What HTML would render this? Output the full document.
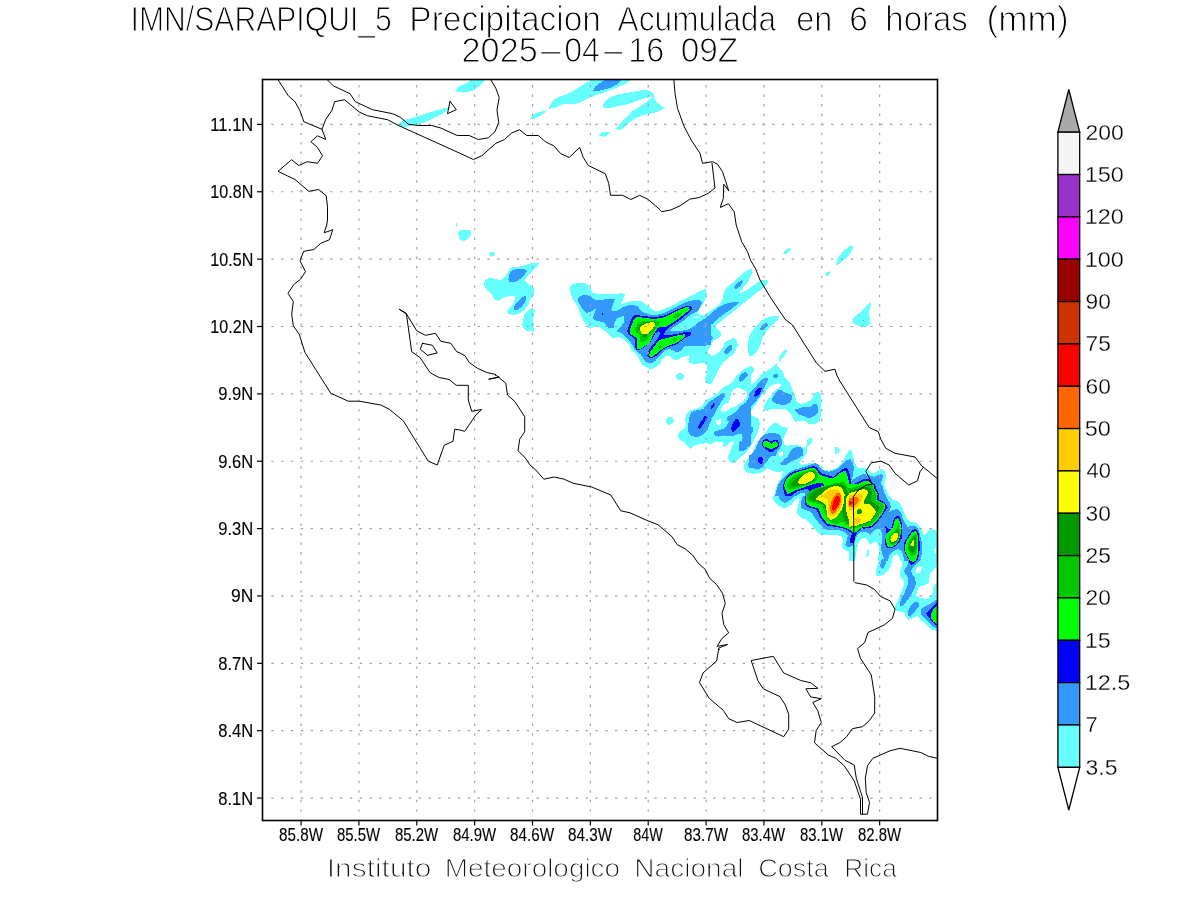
<!DOCTYPE html>
<html><head><meta charset="utf-8"><title>IMN SARAPIQUI_5</title>
<style>
html,body{margin:0;padding:0;background:#fff;}
body{width:1200px;height:900px;overflow:hidden;font-family:"Liberation Sans",sans-serif;}
svg{display:block;position:absolute;left:0;top:0;will-change:transform;}
text{font-family:"Liberation Sans",sans-serif;}
.ttl{font-size:35px;fill:#000;stroke:#fff;stroke-width:1.1px;}
.ax{font-size:18px;fill:#000;stroke:#000;stroke-width:0.12px;}
.cb{font-size:21.4px;fill:#000;stroke:#fff;stroke-width:0.3px;}
.ft{font-size:25.1px;fill:#111;stroke:#fff;stroke-width:1.0px;}
.coast{fill:none;stroke:#000;stroke-width:1.0;stroke-linejoin:round;stroke-linecap:round;}
.gh{stroke:#a2a2a2;stroke-width:1.2;stroke-dasharray:2.4 7.4209;fill:none;}
.gv{stroke:#a2a2a2;stroke-width:1.2;stroke-dasharray:2.4 7.1316;fill:none;}
</style></head><body>
<svg width="1200" height="900" viewBox="0 0 1200 900">
<rect x="0" y="0" width="1200" height="900" fill="#ffffff"/>
<defs><clipPath id="cp"><rect x="262.5" y="79.5" width="675.0" height="741.0"/></clipPath></defs>
<g clip-path="url(#cp)">
<g shape-rendering="crispEdges">
<path fill="#66ffff" d="M397.5,125.0C397.5,125.0 399.8,122.7 401.2,121.9C402.7,121.1 405.4,120.1 407.5,119.4C409.6,118.7 423.3,114.4 427.5,113.1C431.7,111.8 436.5,110.3 440.0,109.4C443.5,108.4 450.6,106.9 450.6,106.9C450.6,106.9 449.6,108.7 448.8,109.4C447.9,110.1 444.7,112.5 442.5,113.8C440.3,115.0 435.0,117.7 431.2,119.4C427.5,121.0 423.7,122.6 420.0,123.8C416.3,124.9 410.8,125.9 408.8,126.2C406.7,126.6 404.3,127.1 402.5,126.9C400.7,126.7 397.5,125.0 397.5,125.0Z"/>
<path fill="#66ffff" d="M455.0,90.6C455.0,90.6 457.3,87.8 458.8,86.9C460.2,85.9 465.7,83.6 467.5,82.5C469.3,81.4 470.4,79.2 472.5,78.8C474.6,78.3 485.0,78.8 485.0,78.8C485.0,78.8 483.6,81.8 482.5,83.1C481.4,84.4 479.3,86.2 477.5,87.5C475.7,88.8 473.6,90.4 471.2,91.2C468.9,92.1 465.6,92.4 463.8,92.5C461.9,92.6 459.2,92.1 458.1,91.9C457.0,91.6 455.0,90.6 455.0,90.6Z"/>
<path fill="#66ffff" d="M530.0,118.8C530.0,118.8 532.1,115.4 533.8,114.4C535.4,113.3 540.2,111.7 541.9,111.2C543.5,110.8 546.9,110.4 546.9,110.4C546.9,110.4 545.4,112.3 544.4,113.1C543.4,113.9 540.3,116.0 538.8,116.9C537.2,117.7 535.0,118.5 533.8,118.8C532.5,119.0 530.0,118.8 530.0,118.8Z"/>
<path fill="#66ffff" d="M549.0,108.5C549.0,108.5 550.1,104.7 551.2,103.1C552.4,101.5 554.2,99.3 556.2,98.1C558.3,96.9 563.8,95.5 567.5,93.8C571.2,92.0 575.0,89.7 578.8,87.5C582.5,85.3 589.1,81.2 590.0,80.6C590.9,80.1 591.5,78.8 592.5,78.8C593.5,78.7 631.9,78.8 631.9,78.8C631.9,78.8 630.0,81.1 628.8,81.9C627.5,82.7 623.0,84.9 620.0,86.2C617.0,87.6 611.7,89.7 607.5,91.2C603.3,92.8 597.6,94.7 595.0,95.6C592.4,96.6 590.0,97.6 587.5,98.8C585.0,99.9 581.1,102.7 577.5,103.5C573.9,104.3 566.1,103.8 563.1,104.4C560.2,105.0 556.9,107.6 555.0,108.1C553.1,108.7 549.0,108.5 549.0,108.5Z"/>
<path fill="#66ffff" d="M603.1,105.6C603.2,104.8 604.0,102.5 605.0,101.2C606.0,100.0 608.1,98.4 610.0,97.5C611.9,96.6 615.7,95.1 618.8,94.4C621.8,93.6 628.7,92.5 632.5,91.9C636.3,91.2 641.6,90.1 643.8,90.0C645.9,89.9 648.6,90.7 650.0,91.2C651.4,91.8 653.0,92.5 653.8,93.8C654.5,95.0 653.8,96.7 654.4,98.1C654.9,99.5 656.0,101.8 657.5,103.1C659.0,104.4 665.0,107.5 665.0,107.5C665.0,107.5 660.7,110.4 658.8,111.2C656.8,112.1 654.6,112.6 652.5,113.1C650.4,113.7 646.4,114.2 643.8,115.0C641.1,115.8 638.4,117.0 636.2,118.1C634.1,119.2 631.9,120.4 630.0,121.9C628.1,123.3 626.5,125.6 625.0,126.9C623.5,128.1 621.3,129.7 620.0,130.0C618.7,130.3 616.2,128.8 616.2,128.8C616.2,128.8 618.6,125.4 620.0,123.8C621.4,122.1 624.3,118.9 626.2,116.9C628.2,114.9 630.3,113.0 632.5,111.2C634.7,109.5 637.5,107.9 640.0,106.2C642.5,104.6 645.9,102.4 647.5,101.2C649.1,100.1 651.9,97.5 651.9,97.5C651.9,97.5 648.9,97.2 647.5,97.5C646.1,97.8 640.8,99.5 637.5,100.6C634.2,101.8 630.8,103.4 627.5,104.4C624.2,105.3 620.4,105.7 617.5,106.2C614.6,106.8 610.2,108.0 608.8,108.1C607.3,108.3 605.1,108.1 604.4,107.8C603.6,107.4 603.0,106.4 603.1,105.6Z"/>
<path fill="#66ffff" d="M598.8,136.2C598.8,136.2 600.8,132.9 602.5,132.2C604.2,131.6 610.0,131.9 610.0,131.9C610.0,131.9 608.1,135.5 606.2,136.2C604.4,137.0 598.8,136.2 598.8,136.2Z"/>
<path fill="#66ffff" d="M458.5,232.5C458.7,231.5 459.6,230.5 460.6,230.2C461.6,230.0 468.4,229.8 469.4,230.0C470.4,230.2 470.9,231.5 471.0,232.5C471.1,233.5 470.8,235.6 470.0,236.9C469.2,238.1 467.6,239.4 466.2,240.0C464.9,240.6 463.1,240.9 461.9,240.6C460.6,240.3 459.5,239.3 459.0,238.1C458.5,236.9 458.3,233.5 458.5,232.5Z"/>
<path fill="#66ffff" d="M456.0,222.5C456.0,222.5 457.0,222.5 457.0,222.5C457.0,222.5 457.0,226.9 457.0,226.9C457.0,226.9 456.0,226.9 456.0,226.9C456.0,226.9 456.0,222.5 456.0,222.5Z"/>
<path fill="#66ffff" d="M489.4,253.1C489.4,253.1 490.9,251.9 491.9,251.9C492.8,251.9 495.0,253.1 495.0,253.1C495.0,253.1 494.9,254.5 494.4,255.0C493.9,255.5 491.5,256.5 491.5,256.5C491.5,256.5 490.4,255.6 490.0,255.0C489.6,254.4 489.4,253.1 489.4,253.1Z"/>
<path fill="#66ffff" d="M484.0,284.4C483.9,282.8 484.7,281.1 485.6,280.0C486.5,278.9 488.0,278.3 489.4,278.1C490.8,277.9 493.1,278.5 495.0,278.8C496.9,279.0 499.2,280.4 501.2,279.8C503.3,279.1 504.9,276.7 506.2,275.0C507.6,273.3 508.2,270.6 509.4,269.4C510.5,268.1 512.1,267.3 513.8,266.9C515.4,266.5 519.6,266.9 522.5,266.2C525.4,265.6 528.8,263.5 531.2,263.1C533.7,262.7 538.8,263.5 538.8,263.5C538.8,263.5 537.3,266.3 536.2,267.5C535.2,268.7 531.9,271.0 530.0,273.1C528.1,275.2 525.0,280.0 525.0,280.0C525.0,280.0 528.8,283.9 530.0,285.0C531.2,286.1 533.2,286.6 533.8,288.1C534.3,289.7 534.1,293.0 533.5,295.0C532.9,297.0 531.0,298.2 530.0,300.0C529.0,301.8 528.8,304.4 527.5,306.2C526.2,308.1 523.1,311.3 521.2,312.5C519.4,313.7 517.1,314.4 515.0,314.6C512.9,314.9 509.8,314.6 508.8,314.0C507.7,313.4 507.0,311.7 507.5,310.6C508.0,309.5 511.3,307.2 512.5,305.0C513.7,302.8 515.6,296.2 515.6,296.2C515.6,296.2 507.4,296.3 505.0,296.9C502.6,297.5 500.2,300.3 498.8,300.6C497.3,301.0 495.5,300.4 494.4,299.4C493.2,298.3 492.6,295.5 491.2,293.8C489.9,292.0 487.3,290.1 486.2,288.8C485.2,287.4 484.1,285.9 484.0,284.4Z"/>
<path fill="#66ffff" d="M522.5,323.3C522.7,321.9 523.5,315.7 525.0,313.3C526.5,310.9 530.5,308.7 531.7,308.3C532.9,307.9 535.0,310.0 535.0,310.0C535.0,310.0 533.4,315.5 533.3,318.3C533.2,321.2 534.2,331.7 534.2,331.7C534.2,331.7 528.2,331.4 526.7,330.8C525.1,330.3 523.7,328.7 523.0,327.5C522.3,326.3 522.3,324.7 522.5,323.3Z"/>
<path fill="#66ffff" d="M569.4,288.1C569.3,286.6 570.5,285.1 571.9,284.4C573.2,283.7 576.4,283.3 578.8,283.1C581.1,283.0 584.5,282.8 586.2,283.5C588.0,284.2 588.9,286.0 590.0,287.5C591.1,289.0 591.6,292.3 593.8,293.1C595.9,293.9 604.1,294.4 608.8,294.4C613.4,294.4 621.5,293.1 622.5,293.1C623.5,293.2 625.0,295.0 625.0,295.0C625.0,295.0 623.0,299.4 622.5,300.6C622.0,301.9 621.2,304.4 621.2,304.4C621.2,304.4 626.9,301.7 630.0,301.2C633.1,300.8 638.8,300.6 641.2,301.2C643.7,301.9 645.7,304.3 647.5,305.6C649.3,307.0 651.0,309.2 652.5,310.0C654.0,310.8 655.8,311.5 657.5,311.2C659.2,311.0 663.4,309.4 666.2,308.1C669.1,306.9 672.1,305.2 675.0,303.8C677.9,302.3 681.6,300.4 685.0,298.8C688.4,297.1 692.5,295.0 695.0,293.8C697.5,292.5 701.4,290.5 702.5,290.0C703.6,289.5 706.0,289.0 706.0,289.0C706.0,289.0 707.0,293.9 706.5,296.2C706.0,298.6 704.5,301.3 703.1,303.8C701.8,306.2 698.6,310.1 698.1,311.2C697.7,312.4 698.8,314.8 698.8,314.8C698.8,314.8 702.2,315.8 703.8,315.2C705.3,314.7 710.6,310.6 710.6,310.6C710.6,310.6 710.6,361.2 710.6,361.2C710.6,361.2 706.9,362.2 705.0,362.5C703.1,362.8 698.8,363.8 696.2,363.8C693.7,363.8 688.8,362.5 688.8,362.5C688.8,362.5 688.1,359.1 688.8,357.5C689.4,355.9 692.5,353.1 692.5,353.1C692.5,353.1 690.0,354.4 688.8,355.0C687.5,355.6 684.6,356.7 682.5,357.5C680.4,358.3 677.6,360.5 675.0,360.0C672.4,359.5 670.6,355.4 668.8,355.0C666.9,354.6 665.1,356.2 663.8,357.5C662.4,358.8 660.5,363.3 658.8,365.0C657.0,366.7 654.2,368.4 652.5,368.8C650.8,369.1 649.1,368.2 647.5,367.5C645.9,366.8 642.9,365.6 641.2,363.8C639.6,361.9 639.2,358.5 637.5,356.2C635.8,354.0 632.9,352.3 631.2,350.0C629.6,347.7 629.4,344.6 627.5,342.5C625.6,340.4 622.4,338.3 620.0,337.5C617.6,336.7 614.8,338.6 612.5,337.5C610.2,336.4 606.1,331.6 603.8,330.0C601.4,328.4 598.5,326.5 596.2,326.2C594.0,326.0 591.8,329.0 590.0,328.8C588.2,328.5 587.3,326.5 586.2,325.0C585.2,323.5 582.7,319.3 581.2,316.2C579.8,313.2 578.9,309.0 577.5,306.2C576.1,303.5 573.7,301.5 572.5,298.8C571.3,296.0 569.4,289.6 569.4,288.1Z"/>
<path fill="#66ffff" d="M676.2,375.6C676.2,374.6 677.2,373.6 678.1,373.1C679.1,372.7 680.9,372.7 681.9,373.1C682.8,373.6 683.8,374.6 683.8,375.6C683.8,376.7 682.9,378.1 681.9,378.8C680.9,379.4 678.1,379.4 678.1,379.4C678.1,379.4 676.2,376.7 676.2,375.6Z"/>
<path fill="#66ffff" d="M697.5,313.8C699.6,313.9 701.7,315.6 703.8,315.0C705.8,314.4 708.7,311.7 711.2,310.0C713.8,308.3 717.0,306.7 718.8,305.0C720.5,303.3 721.7,300.7 722.5,298.8C723.3,296.8 722.9,294.5 723.8,292.5C724.6,290.5 725.9,288.5 727.5,286.9C729.1,285.2 731.7,283.6 733.8,281.9C735.8,280.1 739.2,276.8 741.2,275.0C743.3,273.2 746.2,270.7 747.5,270.0C748.8,269.3 751.9,269.4 751.9,269.4C751.9,269.4 752.7,271.5 752.5,272.5C752.3,273.5 751.0,276.3 750.0,278.1C749.0,279.9 747.3,282.8 745.6,285.0C744.0,287.2 740.4,290.7 740.0,291.2C739.6,291.8 739.4,293.1 739.4,293.1C739.4,293.1 743.2,292.2 745.0,291.2C746.8,290.3 749.1,288.3 751.2,286.9C753.4,285.4 755.9,283.5 757.5,282.5C759.1,281.5 761.1,280.4 762.5,280.0C763.9,279.6 766.0,279.6 766.9,280.0C767.7,280.4 768.4,281.6 768.1,282.5C767.9,283.4 766.2,285.1 765.0,286.2C763.8,287.4 760.9,289.6 758.8,291.2C756.6,292.9 754.6,294.6 752.5,296.2C750.4,297.9 748.4,299.6 746.2,301.2C744.1,302.9 742.1,304.6 740.0,306.2C737.9,307.9 735.9,309.6 733.8,311.2C731.6,312.9 729.6,314.6 727.5,316.2C725.4,317.9 723.4,319.6 721.2,321.2C719.1,322.9 715.0,326.2 715.0,326.2C715.0,326.2 720.0,331.4 720.6,332.5C721.2,333.6 721.4,335.2 720.6,336.2C719.9,337.3 716.4,338.9 715.0,340.0C713.6,341.1 712.4,342.4 711.2,343.8C710.1,345.1 707.9,347.5 707.5,348.8C707.1,350.0 707.9,351.5 708.8,352.5C709.6,353.5 712.5,355.0 712.5,355.0C712.5,355.0 716.0,352.7 717.5,351.2C719.0,349.8 722.3,345.2 723.8,343.8C725.2,342.3 727.2,340.9 728.8,340.0C730.3,339.1 732.5,338.1 733.8,338.1C735.0,338.1 736.5,338.8 736.9,340.0C737.3,341.2 736.9,343.4 736.2,345.0C735.6,346.6 733.9,349.2 732.5,351.2C731.1,353.3 729.1,355.7 727.5,357.5C725.9,359.3 723.5,361.4 722.5,362.5C721.5,363.6 720.9,365.8 719.4,365.6C717.9,365.5 712.5,362.0 708.8,361.2C705.0,360.5 700.4,361.2 697.5,361.2C694.6,361.2 688.8,361.2 688.8,361.2C688.8,361.2 688.8,313.8 688.8,313.8C688.8,313.8 695.4,313.6 697.5,313.8Z"/>
<path fill="#66ffff" d="M748.1,342.5C748.4,339.9 748.9,337.4 750.0,335.0C751.1,332.6 753.1,329.8 755.0,327.5C756.9,325.2 759.3,322.8 761.2,321.2C763.2,319.7 765.2,318.4 767.5,317.5C769.8,316.6 775.1,315.7 776.2,315.6C777.4,315.6 779.4,316.9 779.4,316.9C779.4,316.9 777.4,319.9 776.2,321.2C775.1,322.6 772.0,325.3 770.0,327.5C768.0,329.7 765.1,332.7 763.8,335.0C762.4,337.3 762.2,340.0 761.2,342.5C760.3,345.0 759.3,348.1 758.1,350.0C757.0,351.9 754.8,354.3 753.8,355.0C752.7,355.7 750.0,355.6 750.0,355.6C750.0,355.6 748.4,352.8 748.1,351.2C747.9,349.7 747.8,345.1 748.1,342.5Z"/>
<path fill="#66ffff" d="M779.0,360.0C779.0,360.0 780.1,355.6 781.2,353.8C782.4,351.9 785.6,349.0 785.6,349.0C785.6,349.0 787.1,350.4 786.9,351.2C786.7,352.1 784.8,354.7 783.8,356.2C782.7,357.8 780.6,360.6 780.6,360.6C780.6,360.6 779.0,360.0 779.0,360.0Z"/>
<path fill="#66ffff" d="M825.0,274.4C825.0,274.4 826.6,272.4 827.5,271.9C828.4,271.4 830.6,271.2 830.6,271.2C830.6,271.2 830.0,273.0 829.4,273.8C828.8,274.5 826.9,275.6 826.9,275.6C826.9,275.6 825.0,274.4 825.0,274.4Z"/>
<path fill="#66ffff" d="M649.2,369.6C649.2,369.6 651.5,369.2 652.5,368.8C653.5,368.3 655.1,367.3 656.2,366.2C657.4,365.2 658.2,363.8 659.2,362.5C660.1,361.2 661.6,358.5 662.5,357.5C663.4,356.5 664.6,355.6 665.8,355.4C667.1,355.2 668.4,355.7 669.6,356.2C670.7,356.8 672.6,359.3 674.2,359.6C675.8,359.9 677.2,358.4 678.8,357.9C680.3,357.4 682.8,356.8 684.2,356.2C685.5,355.7 686.6,354.7 687.9,354.2C689.3,353.7 692.9,352.9 692.9,352.9C692.9,352.9 691.1,354.4 690.4,355.4C689.8,356.4 688.2,358.5 688.3,360.0C688.5,361.5 689.8,363.0 691.2,363.5C692.7,364.0 694.8,362.7 696.7,362.7C698.5,362.6 703.0,362.9 704.2,363.2C705.3,363.5 706.4,364.3 706.8,365.4C707.3,366.5 707.8,369.6 707.5,371.7C707.2,373.8 705.3,376.9 705.2,378.3C705.0,379.8 705.9,381.6 706.5,382.5C707.1,383.4 707.9,384.5 709.0,384.6C710.1,384.7 711.3,383.8 712.1,382.9C712.9,382.0 713.4,380.1 714.2,378.8C714.9,377.4 716.4,374.6 717.5,372.5C718.6,370.4 720.0,367.2 720.8,365.8C721.7,364.5 722.6,363.2 723.8,362.1C724.9,361.0 727.6,358.8 729.2,357.5C730.7,356.2 732.7,354.9 733.8,353.8C734.8,352.6 735.8,351.0 736.2,350.0C736.7,349.0 736.1,347.6 736.7,346.7C737.2,345.7 739.6,344.2 739.6,344.2C739.6,344.2 649.2,344.2 649.2,344.2C649.2,344.2 649.2,369.6 649.2,369.6Z"/>
<path fill="#66ffff" d="M676.0,376.2C676.0,375.3 676.4,374.3 677.1,373.8C677.8,373.2 679.0,372.9 680.0,372.9C681.0,372.9 682.2,373.2 682.9,373.8C683.6,374.3 684.0,375.3 684.0,376.2C684.0,377.2 683.6,378.1 682.9,378.8C682.2,379.4 681.0,379.8 680.0,379.8C679.0,379.8 677.8,379.4 677.1,378.8C676.4,378.1 676.0,377.2 676.0,376.2Z"/>
<path fill="#66ffff" d="M666.2,420.8C666.2,420.8 666.8,418.1 667.9,417.5C669.0,416.9 672.5,417.1 672.5,417.1C672.5,417.1 673.3,420.8 673.3,420.8C673.3,420.8 666.2,420.8 666.2,420.8Z"/>
<path fill="#66ffff" d="M747.9,353.8C747.9,353.8 747.7,344.2 747.7,344.2C747.7,344.2 750.8,344.2 750.8,344.2C750.8,344.2 750.8,354.2 750.8,354.2C750.8,354.2 747.9,353.8 747.9,353.8Z"/>
<path fill="#66ffff" d="M685.0,420.8C685.0,420.8 685.4,415.8 686.2,414.2C687.1,412.5 688.8,411.3 690.4,410.4C692.1,409.5 694.5,409.4 696.2,408.8C698.0,408.1 699.8,407.5 701.2,406.2C702.7,405.0 704.1,401.9 705.8,400.4C707.5,398.9 709.9,398.1 711.7,397.1C713.4,396.0 715.2,394.9 716.7,393.8C718.2,392.6 719.8,390.9 720.8,390.0C721.8,389.1 722.6,387.9 723.8,387.1C724.9,386.3 727.7,385.1 729.2,384.2C730.7,383.2 732.2,382.1 733.3,380.8C734.4,379.6 734.9,378.0 735.8,376.7C736.8,375.4 738.2,373.8 739.6,372.5C741.0,371.2 742.8,370.1 744.2,369.2C745.5,368.3 747.5,367.1 748.3,366.7C749.2,366.2 750.8,365.4 750.8,365.4C750.8,365.4 750.8,420.8 750.8,420.8C750.8,420.8 685.0,420.8 685.0,420.8Z"/>
<path fill="#66ffff" d="M749.2,344.2C749.2,344.2 760.0,344.2 760.0,344.2C760.0,344.2 759.0,347.0 758.3,348.3C757.7,349.7 756.8,351.2 755.8,352.5C754.9,353.8 753.5,355.3 752.5,355.8C751.5,356.3 749.2,355.8 749.2,355.8C749.2,355.8 749.2,344.2 749.2,344.2Z"/>
<path fill="#66ffff" d="M778.8,360.8C778.8,360.8 779.0,358.0 779.6,356.7C780.1,355.4 781.5,353.3 782.5,352.1C783.5,350.9 785.8,349.0 785.8,349.0C785.8,349.0 787.1,350.0 787.1,350.0C787.1,350.0 786.2,352.9 785.4,354.2C784.6,355.5 783.0,357.4 782.1,358.3C781.2,359.3 779.3,360.7 779.2,360.8C779.1,360.9 778.8,360.8 778.8,360.8Z"/>
<path fill="#66ffff" d="M749.2,365.8C749.2,365.8 751.7,366.1 752.5,366.7C753.3,367.2 754.0,368.2 754.2,369.2C754.3,370.2 753.9,371.5 753.3,372.5C752.8,373.5 751.3,374.6 750.8,375.0C750.3,375.4 749.2,375.8 749.2,375.8C749.2,375.8 749.2,365.8 749.2,365.8Z"/>
<path fill="#66ffff" d="M749.2,388.3C749.4,386.2 752.0,384.8 753.3,383.3C754.7,381.9 756.3,380.5 757.5,379.2C758.7,377.8 759.8,376.0 760.8,375.0C761.8,374.0 763.0,373.3 764.2,372.5C765.3,371.7 766.9,370.8 768.3,370.0C769.7,369.2 771.3,368.6 772.5,367.5C773.7,366.4 776.7,362.9 776.7,362.9C776.7,362.9 777.2,365.6 777.9,366.7C778.6,367.7 780.0,368.4 780.8,369.2C781.7,370.0 782.9,370.6 783.3,371.7C783.8,372.8 783.7,375.6 784.2,376.7C784.6,377.8 785.8,378.4 786.7,379.2C787.5,380.0 788.9,380.6 789.6,381.7C790.3,382.8 790.3,384.5 790.8,385.8C791.3,387.2 792.6,389.7 793.3,391.7C794.1,393.7 794.7,396.6 795.4,398.3C796.1,400.1 796.4,402.4 797.9,403.3C799.5,404.3 801.6,403.8 803.3,403.3C805.1,402.9 807.0,401.7 808.3,400.8C809.6,399.9 810.9,398.6 811.7,397.5C812.5,396.4 812.3,394.6 813.3,393.8C814.4,392.9 817.1,391.9 818.3,392.1C819.6,392.3 820.5,393.8 820.8,395.0C821.2,396.2 821.2,400.5 821.2,403.3C821.3,406.1 821.2,420.8 821.2,420.8C821.2,420.8 749.2,420.8 749.2,420.8C749.2,420.8 748.9,390.5 749.2,388.3Z"/>
<path fill="#66ffff" d="M665.8,419.2C665.8,419.2 673.3,419.2 673.3,419.2C673.3,419.2 674.1,420.6 673.8,421.2C673.4,421.9 671.6,423.7 670.8,424.2C670.1,424.6 669.1,424.9 668.3,424.6C667.5,424.3 666.7,423.4 666.2,422.5C665.8,421.6 665.8,419.2 665.8,419.2Z"/>
<path fill="#66ffff" d="M685.0,419.2C685.0,419.2 686.1,423.4 685.8,425.0C685.6,426.6 684.4,427.9 683.3,429.2C682.2,430.4 679.9,431.6 679.2,432.5C678.4,433.4 677.8,434.6 677.9,435.8C678.0,437.0 679.0,438.8 680.0,440.0C681.0,441.2 683.0,442.0 684.2,442.9C685.3,443.8 686.5,444.9 687.5,445.8C688.5,446.8 690.4,448.8 690.4,448.8C690.4,448.8 692.8,446.6 694.2,445.8C695.6,445.1 697.4,444.5 699.2,444.2C700.9,443.8 705.0,443.4 706.7,443.3C708.4,443.3 710.1,444.0 711.7,443.8C713.2,443.5 714.3,442.1 715.8,441.8C717.4,441.6 722.5,442.1 722.5,442.1C722.5,442.1 723.0,445.2 723.3,445.8C723.6,446.5 725.0,447.1 725.0,447.1C725.0,447.1 726.7,445.7 727.5,445.0C728.3,444.3 729.0,443.1 730.0,442.5C731.0,441.9 733.3,441.2 733.3,441.2C733.3,441.2 734.0,442.7 733.8,443.3C733.5,444.0 731.9,446.0 731.2,447.5C730.6,449.0 730.5,451.0 730.0,452.5C729.5,454.0 728.1,455.2 727.9,456.7C727.8,458.1 728.5,459.8 729.2,460.8C729.8,461.8 730.9,462.7 732.1,462.9C733.3,463.1 734.7,462.7 735.8,462.1C736.9,461.4 737.5,460.1 738.3,459.2C739.2,458.2 740.4,456.8 741.7,455.8C742.9,454.8 745.3,453.4 746.7,452.5C748.0,451.6 750.6,451.6 750.8,450.0C751.0,448.4 750.8,419.2 750.8,419.2C750.8,419.2 685.0,419.2 685.0,419.2Z"/>
<path fill="#66ffff" d="M750.8,456.7C750.8,456.7 748.5,458.2 747.5,459.2C746.5,460.2 745.5,461.2 745.0,462.5C744.5,463.8 744.0,466.0 744.2,467.5C744.3,469.0 745.0,470.8 745.8,471.7C746.6,472.5 748.6,472.8 749.2,472.9C749.7,473.0 750.8,472.5 750.8,472.5C750.8,472.5 750.8,456.7 750.8,456.7Z"/>
<path fill="#66ffff" d="M739.3,394.3C739.3,394.3 820.7,394.3 820.7,394.3C820.7,394.3 820.7,455.7 820.7,455.7C820.7,455.7 739.3,455.7 739.3,455.7C739.3,455.7 739.3,394.3 739.3,394.3Z"/>
<path fill="#66ffff" d="M749.2,453.3C749.2,453.3 850.8,453.3 850.8,453.3C850.8,453.3 850.8,495.8 850.8,495.8C850.8,495.8 749.2,495.8 749.2,495.8C749.2,495.8 749.2,453.3 749.2,453.3Z"/>
<path fill="#66ffff" d="M819.2,419.2C819.2,419.2 850.8,419.2 850.8,419.2C850.8,419.2 850.8,455.0 850.8,455.0C850.8,455.0 819.2,455.0 819.2,455.0C819.2,455.0 819.2,419.2 819.2,419.2Z"/>
<path fill="#66ffff" d="M849.2,449.2C849.2,449.2 851.1,450.6 851.7,451.7C852.2,452.7 852.8,455.0 853.3,456.7C853.8,458.4 854.2,461.7 855.0,463.3C855.8,465.0 856.7,466.8 858.3,467.5C860.0,468.2 863.0,467.2 865.0,467.9C867.0,468.6 868.7,470.9 870.0,471.7C871.3,472.4 872.7,473.6 874.2,473.3C875.6,473.0 877.1,470.6 878.3,470.0C879.6,469.4 881.3,468.9 882.5,469.2C883.7,469.5 884.6,470.6 885.0,471.7C885.4,472.8 886.0,476.1 885.8,478.3C885.7,480.6 884.0,482.9 884.2,485.0C884.3,487.1 886.0,489.0 886.7,490.8C887.3,492.6 888.3,496.2 888.3,496.2C888.3,496.2 849.2,496.2 849.2,496.2C849.2,496.2 849.2,449.2 849.2,449.2Z"/>
<path fill="#66ffff" d="M772.5,484.2C772.5,484.2 774.9,488.0 775.0,490.0C775.1,492.0 773.5,494.2 773.3,495.8C773.1,497.5 773.0,499.3 773.8,500.8C774.5,502.3 776.6,504.7 778.3,505.8C780.1,507.0 782.4,507.8 784.2,507.9C785.9,508.0 787.7,507.6 789.2,506.7C790.6,505.7 792.7,503.3 794.2,501.7C795.6,500.1 798.3,496.7 798.3,496.7C798.3,496.7 799.3,500.0 799.2,501.7C799.0,503.4 797.8,506.4 797.5,508.3C797.2,510.3 796.7,512.4 797.5,514.2C798.3,515.9 800.1,516.9 801.7,517.9C803.2,518.9 805.2,518.9 806.7,520.0C808.2,521.1 810.1,523.2 811.7,525.0C813.2,526.8 815.2,530.2 816.7,531.7C818.1,533.1 819.7,534.4 821.7,535.0C823.6,535.6 826.1,535.4 828.3,535.4C830.6,535.4 832.8,534.8 835.0,535.0C837.2,535.2 840.6,536.0 841.7,536.7C842.7,537.3 843.3,538.7 843.3,540.0C843.4,541.3 842.1,543.5 842.1,545.0C842.1,546.5 842.3,548.2 843.3,549.2C844.4,550.2 846.6,550.8 848.3,550.8C850.1,550.8 852.1,550.4 853.3,549.2C854.6,547.9 854.9,545.1 855.8,543.3C856.8,541.6 858.0,539.3 859.2,538.3C860.3,537.3 861.8,536.5 863.3,536.7C864.8,536.8 866.3,538.1 867.5,539.2C868.7,540.2 871.2,543.3 871.2,543.3C871.2,543.3 871.2,484.2 871.2,484.2C871.2,484.2 772.5,484.2 772.5,484.2Z"/>
<path fill="#66ffff" d="M866.2,555.8C866.2,555.1 866.9,550.7 867.1,550.0C867.3,549.3 868.8,548.8 868.8,548.8C868.8,548.8 869.6,550.6 869.6,551.7C869.6,552.7 869.0,556.0 868.8,556.7C868.5,557.3 867.1,557.9 867.1,557.9C867.1,557.9 866.2,556.6 866.2,555.8Z"/>
<path fill="#66ffff" d="M883.3,484.2C885.4,484.5 884.9,488.1 885.8,490.0C886.8,491.9 888.0,494.2 889.2,495.8C890.4,497.4 891.8,499.0 893.3,500.0C894.8,501.0 896.9,500.7 898.3,501.7C899.8,502.7 900.8,504.3 901.7,505.8C902.5,507.4 903.4,510.5 904.2,512.5C905.0,514.5 905.6,516.9 906.7,518.3C907.7,519.8 909.3,521.0 910.8,521.7C912.4,522.4 914.4,521.8 915.8,522.5C917.3,523.2 918.2,524.6 919.2,525.8C920.1,527.1 921.8,530.3 922.5,531.7C923.2,533.0 924.2,535.8 924.2,535.8C924.2,535.8 926.4,532.9 927.5,531.7C928.6,530.5 930.8,528.3 930.8,528.3C930.8,528.3 933.0,529.4 934.2,530.0C935.3,530.6 937.3,530.4 937.5,531.7C937.7,532.9 938.3,561.2 938.3,561.2C938.3,561.2 849.2,561.2 849.2,561.2C849.2,561.2 849.2,484.2 849.2,484.2C849.2,484.2 881.2,483.8 883.3,484.2Z"/>
<path fill="#66ffff" d="M876.2,575.8C876.2,575.8 876.3,569.5 876.7,567.5C877.0,565.5 878.4,562.5 878.8,561.7C879.1,560.8 879.1,559.3 880.0,559.2C880.9,559.0 891.7,559.2 891.7,559.2C891.7,559.2 891.8,563.1 891.2,565.0C890.7,566.9 889.5,568.5 888.3,570.0C887.1,571.5 885.4,573.3 884.2,574.2C882.9,575.0 881.2,575.6 880.0,575.8C878.8,576.1 876.2,575.8 876.2,575.8Z"/>
<path fill="#66ffff" d="M900.8,559.2C900.8,559.2 902.6,563.0 902.5,565.0C902.4,567.0 900.3,568.9 900.0,570.8C899.7,572.8 899.7,574.8 900.4,576.7C901.1,578.5 903.7,580.0 904.2,581.7C904.6,583.3 903.8,585.0 903.3,586.7C902.9,588.3 901.6,591.4 900.8,593.3C900.0,595.3 899.2,597.2 898.3,599.2C897.4,601.1 895.9,603.4 895.4,605.0C895.0,606.6 894.5,608.6 895.4,610.0C896.3,611.4 898.6,611.3 900.0,611.7C901.4,612.1 903.2,611.5 904.2,612.5C905.2,613.5 905.3,616.6 905.8,617.5C906.4,618.4 907.2,619.4 908.3,619.6C909.4,619.7 911.1,618.9 912.5,618.3C913.9,617.8 917.5,615.8 917.5,615.8C917.5,615.8 919.6,618.7 920.8,620.0C922.1,621.3 923.7,622.1 925.0,623.3C926.3,624.5 928.3,626.7 929.2,627.5C930.0,628.3 930.6,629.6 931.7,630.0C932.8,630.4 938.3,630.8 938.3,630.8C938.3,630.8 938.3,559.2 938.3,559.2C938.3,559.2 900.8,559.2 900.8,559.2Z"/>
<path fill="#66ffff" d="M783.0,253.5C783.0,253.5 784.1,251.4 785.0,250.5C785.9,249.6 787.5,248.2 788.5,248.0C789.5,247.8 791.0,249.5 791.0,249.5C791.0,249.5 789.3,251.3 788.5,252.0C787.7,252.7 787.0,253.5 786.0,253.8C785.0,254.1 783.0,253.5 783.0,253.5Z"/>
<path fill="#66ffff" d="M836.0,264.5C836.0,264.5 836.3,261.4 837.0,260.0C837.7,258.6 839.5,255.8 841.0,254.0C842.5,252.2 844.7,250.2 846.0,249.0C847.3,247.8 849.1,245.9 850.0,245.5C850.9,245.1 852.8,246.0 852.8,246.0C852.8,246.0 852.7,248.7 852.2,250.0C851.7,251.3 850.2,253.5 849.0,255.0C847.8,256.5 846.3,257.8 845.0,259.0C843.7,260.2 842.1,261.6 841.0,262.5C839.9,263.4 838.0,264.6 837.5,264.8C837.0,265.0 836.0,264.5 836.0,264.5Z"/>
<path fill="#66ffff" d="M825.0,274.5C825.0,274.5 826.8,273.0 827.5,272.5C828.2,272.0 829.5,271.0 829.5,271.0C829.5,271.0 831.0,272.0 831.0,272.0C831.0,272.0 830.2,273.9 829.5,274.5C828.8,275.1 827.2,275.8 826.5,275.8C825.8,275.8 825.0,274.5 825.0,274.5Z"/>
<path fill="#66ffff" d="M853.0,320.0C853.2,319.2 853.4,318.0 854.0,317.2C854.6,316.5 856.7,315.1 858.0,314.0C859.3,312.9 861.0,311.4 862.5,310.0C864.0,308.6 866.2,306.3 867.0,305.5C867.8,304.7 869.0,303.3 869.5,303.1C870.0,302.9 871.0,303.5 871.0,303.5C871.0,303.5 870.8,304.5 870.8,305.0C870.7,305.5 870.1,309.0 870.0,309.5C869.9,310.0 869.1,310.0 869.0,310.5C868.9,311.0 868.9,316.1 869.0,316.5C869.1,316.9 869.9,316.8 870.0,317.2C870.1,317.7 870.4,322.1 870.0,323.5C869.6,324.9 868.5,326.5 867.0,326.8C865.5,327.0 859.7,326.0 858.5,325.8C857.3,325.5 855.8,325.0 855.0,324.5C854.2,324.0 853.3,323.3 853.0,322.5C852.7,321.7 852.8,320.8 853.0,320.0Z"/>
<path fill="#ffffff" d="M707.3,352.1C707.3,352.1 708.8,349.6 709.6,348.3C710.4,347.1 711.4,344.1 713.3,343.2C715.3,342.3 720.5,342.6 721.7,342.8C722.8,343.1 724.2,345.4 724.2,345.4C724.2,345.4 722.0,349.1 720.8,350.4C719.6,351.7 718.1,352.9 716.7,353.8C715.2,354.6 713.2,355.8 712.1,355.8C711.0,355.9 709.9,354.7 709.2,354.2C708.4,353.6 707.3,352.1 707.3,352.1Z"/>
<path fill="#ffffff" d="M731.7,391.7C732.2,390.6 733.1,389.7 734.2,389.2C735.2,388.6 736.9,388.3 738.3,388.3C739.8,388.3 741.3,388.7 742.5,389.2C743.7,389.6 745.0,390.5 745.8,391.2C746.6,392.0 747.5,393.0 747.5,394.2C747.5,395.3 746.8,397.2 745.8,398.3C744.8,399.5 742.4,400.4 740.8,401.7C739.3,402.9 738.3,404.7 736.7,405.8C735.0,406.9 732.7,407.4 730.8,408.3C728.9,409.3 726.1,411.3 725.0,411.7C723.9,412.0 721.7,411.7 721.7,411.7C721.7,411.7 721.0,409.4 721.2,408.3C721.5,407.2 722.3,405.9 723.3,405.0C724.3,404.1 727.4,403.1 728.3,402.1C729.3,401.1 729.6,399.6 730.0,398.3C730.4,397.0 731.2,392.7 731.7,391.7Z"/>
<path fill="#ffffff" d="M764.6,395.8C764.9,395.0 765.6,391.7 766.7,390.0C767.7,388.3 769.3,386.9 770.8,385.8C772.3,384.8 774.7,384.1 775.8,383.8C776.9,383.4 778.3,382.7 779.2,382.9C780.1,383.1 781.0,385.0 781.0,385.0C781.0,385.0 779.3,387.0 778.3,387.9C777.4,388.8 775.4,390.4 774.2,391.7C772.9,393.0 771.3,395.1 770.8,395.8C770.4,396.6 770.0,398.3 770.0,398.3C770.0,398.3 763.3,398.3 763.3,398.3C763.3,398.3 764.2,396.7 764.6,395.8Z"/>
<path fill="#ffffff" d="M715.8,424.2C715.8,424.2 716.2,420.0 716.2,420.0C716.2,420.0 720.8,419.2 720.8,419.2C720.8,419.2 721.5,422.5 721.2,423.3C721.0,424.2 720.1,424.9 719.2,425.0C718.3,425.1 715.8,424.2 715.8,424.2Z"/>
<path fill="#ffffff" d="M762.7,394.3C764.2,393.8 771.3,394.3 771.3,394.3C771.3,394.3 769.1,397.4 768.0,399.0C766.9,400.6 765.2,403.1 764.7,404.3C764.1,405.6 763.6,407.0 764.0,408.3C764.4,409.6 766.7,411.3 766.7,411.3C766.7,411.3 770.1,409.5 772.0,409.1C773.9,408.8 778.0,408.7 780.0,408.7C782.0,408.7 784.4,408.4 786.0,409.1C787.6,409.9 788.2,411.7 789.3,413.0C790.4,414.3 791.9,415.7 792.7,417.0C793.4,418.3 792.7,420.5 794.0,421.3C795.3,422.2 798.0,421.7 800.0,421.7C802.0,421.7 804.8,421.1 806.0,421.3C807.2,421.6 807.5,423.4 808.7,423.7C809.8,424.0 813.6,424.1 815.3,423.7C817.1,423.3 819.7,421.2 820.0,421.0C820.3,420.8 821.0,420.7 821.0,420.7C821.0,420.7 821.0,456.0 821.0,456.0C821.0,456.0 806.7,456.0 806.7,456.0C806.7,456.0 806.5,450.9 806.7,449.7C806.8,448.5 807.3,447.3 808.0,446.3C808.7,445.4 811.0,444.2 811.7,443.0C812.3,441.8 812.1,439.8 812.0,439.0C811.9,438.2 810.7,437.0 810.7,437.0C810.7,437.0 808.2,437.5 807.3,438.3C806.5,439.2 807.0,441.0 806.0,441.7C805.0,442.4 802.1,443.1 800.0,443.7C797.9,444.2 795.6,444.7 793.3,445.0C791.1,445.3 787.7,445.7 786.7,445.7C785.7,445.6 784.4,445.3 784.0,444.3C783.6,443.4 783.2,439.7 783.7,437.7C784.1,435.7 786.0,433.5 786.7,432.3C787.4,431.2 789.0,429.0 789.0,429.0C789.0,429.0 787.5,428.0 786.7,427.7C785.8,427.4 782.7,427.0 781.3,426.3C780.0,425.7 779.4,423.9 778.0,423.3C776.6,422.8 774.8,422.7 773.3,423.3C771.9,423.9 770.4,425.8 769.3,427.0C768.3,428.2 767.7,429.7 766.7,431.0C765.7,432.3 763.8,434.3 762.7,435.7C761.5,437.0 760.4,438.3 759.3,439.7C758.3,441.1 756.9,442.7 756.0,444.3C755.1,446.0 754.0,448.5 753.3,450.3C752.7,452.2 752.0,456.0 752.0,456.0C752.0,456.0 742.7,456.0 742.7,456.0C742.7,456.0 745.4,453.2 746.7,451.7C747.9,450.1 750.2,447.3 751.3,445.7C752.4,444.0 753.1,442.1 754.0,440.3C754.9,438.5 755.9,436.8 756.7,435.0C757.4,433.2 758.2,431.5 758.7,429.7C759.2,427.8 759.7,425.3 759.7,423.7C759.7,422.1 759.4,420.1 758.7,419.0C758.0,417.9 756.5,417.6 755.3,417.0C754.2,416.4 752.1,415.9 751.3,415.0C750.5,414.1 750.0,412.8 750.3,411.7C750.6,410.5 752.3,409.0 753.3,407.7C754.3,406.3 755.5,404.6 756.7,403.0C757.8,401.4 759.1,399.7 760.0,398.3C760.9,397.0 761.1,394.9 762.7,394.3Z"/>
<path fill="#ffffff" d="M739.3,394.3C739.3,394.3 747.0,394.3 747.0,394.3C747.0,394.3 746.1,397.1 745.3,398.3C744.6,399.6 742.8,401.6 742.0,402.3C741.2,403.1 739.3,404.0 739.3,404.0C739.3,404.0 739.3,394.3 739.3,394.3Z"/>
<path fill="#ffffff" d="M795.0,394.3C795.0,394.3 813.3,394.3 813.3,394.3C813.3,394.3 813.1,397.2 812.3,398.3C811.5,399.5 809.6,400.8 808.0,401.7C806.4,402.6 804.3,403.5 802.7,403.7C801.1,403.8 799.2,403.5 798.0,402.7C796.8,401.9 796.2,400.4 795.7,399.0C795.2,397.6 795.0,394.3 795.0,394.3Z"/>
<path fill="#ffffff" d="M779.3,456.0C779.3,456.0 779.6,453.6 780.0,453.0C780.4,452.4 782.0,452.3 782.0,452.3C782.0,452.3 783.0,456.0 783.0,456.0C783.0,456.0 779.3,456.0 779.3,456.0Z"/>
<path fill="#ffffff" d="M789.2,419.2C789.2,419.2 789.1,425.3 788.3,428.3C787.5,431.3 784.6,435.3 784.2,437.5C783.7,439.7 785.0,444.2 785.0,444.2C785.0,444.2 790.0,445.0 791.7,445.0C793.4,445.0 795.0,443.8 796.7,444.2C798.3,444.5 802.1,447.3 803.3,447.5C804.6,447.7 806.1,446.9 806.7,445.8C807.3,444.7 806.5,441.6 807.5,440.0C808.5,438.4 812.1,437.1 812.1,437.1C812.1,437.1 812.3,441.0 811.7,442.5C811.0,444.0 809.0,444.4 808.3,445.8C807.6,447.3 807.3,451.0 806.7,452.5C806.1,454.0 805.1,455.4 804.2,456.7C803.2,458.0 799.2,462.5 799.2,462.5C799.2,462.5 800.5,464.9 801.7,465.0C802.8,465.1 806.0,463.7 808.3,463.3C810.6,463.0 814.2,462.6 815.8,462.9C817.5,463.3 818.7,464.7 820.0,465.8C821.3,467.0 821.8,468.9 823.3,469.6C824.9,470.3 827.8,470.8 830.0,470.4C832.2,470.1 834.8,468.6 836.7,467.5C838.5,466.4 840.5,464.8 841.7,463.3C842.9,461.9 843.3,460.0 844.2,458.3C845.1,456.7 846.2,454.8 847.1,453.3C848.0,451.9 849.1,450.0 850.0,449.2C850.9,448.4 853.2,449.1 853.3,447.9C853.5,446.7 853.3,416.7 853.3,416.7C853.3,416.7 820.0,416.7 820.0,416.7C820.0,416.7 820.9,420.3 820.0,421.7C819.1,423.1 817.0,423.4 815.3,423.7C813.7,424.0 809.9,424.1 808.3,423.8C806.7,423.4 805.8,421.5 804.2,421.2C802.6,421.0 794.2,421.7 794.2,421.7C794.2,421.7 794.2,419.2 794.2,419.2C794.2,419.2 789.2,419.2 789.2,419.2Z"/>
<path fill="#ffffff" d="M749.2,473.3C749.2,473.3 753.0,473.9 755.0,473.8C757.0,473.6 760.5,473.0 762.5,472.1C764.5,471.2 767.5,467.9 767.5,467.9C767.5,467.9 770.2,469.8 771.7,470.4C773.2,471.0 775.6,472.0 777.5,472.1C779.4,472.2 782.9,470.8 782.9,470.8C782.9,470.8 782.4,474.8 781.7,476.7C780.9,478.5 779.3,480.5 778.3,482.5C777.4,484.5 776.5,486.9 775.8,489.2C775.1,491.5 774.2,496.2 774.2,496.2C774.2,496.2 749.2,496.2 749.2,496.2C749.2,496.2 749.2,473.3 749.2,473.3Z"/>
<path fill="#ffffff" d="M779.0,455.0C778.9,454.2 779.0,453.1 779.6,452.5C780.2,451.9 781.5,451.8 782.1,451.9C782.7,452.1 783.2,452.7 783.2,453.3C783.2,453.9 782.6,455.2 782.1,455.8C781.6,456.5 780.0,457.1 780.0,457.1C780.0,457.1 779.1,455.8 779.0,455.0Z"/>
<path fill="#ffffff" d="M855.0,561.2C855.0,561.2 856.1,552.9 856.7,550.0C857.3,547.1 858.2,543.4 859.2,541.7C860.1,539.9 863.3,537.5 863.3,537.5C863.3,537.5 865.8,538.2 866.7,539.2C867.5,540.1 870.0,545.0 870.0,545.0C870.0,545.0 873.0,542.8 874.2,542.5C875.3,542.2 876.9,542.4 877.5,543.3C878.1,544.3 879.0,548.0 879.2,550.0C879.3,552.0 878.6,554.0 878.3,555.8C878.1,557.7 877.5,561.2 877.5,561.2C877.5,561.2 855.0,561.2 855.0,561.2Z"/>
<path fill="#ffffff" d="M934.2,550.0C934.2,549.0 935.8,547.5 935.8,547.5C935.8,547.5 936.7,549.9 936.7,550.8C936.7,551.7 935.8,553.3 935.8,553.3C935.8,553.3 934.2,551.0 934.2,550.0Z"/>
<path fill="#ffffff" d="M916.2,571.7C916.2,571.2 916.1,569.3 916.7,568.3C917.2,567.4 918.3,566.5 919.2,566.2C920.0,566.0 921.7,567.1 921.7,567.1C921.7,567.1 921.6,570.0 921.2,570.8C920.9,571.7 920.4,572.5 919.6,572.9C918.8,573.3 916.7,572.9 916.7,572.9C916.7,572.9 916.2,572.1 916.2,571.7Z"/>
<path fill="#ffffff" d="M937.5,565.8C937.5,565.8 934.5,568.7 933.3,570.0C932.1,571.3 930.6,572.5 930.0,574.2C929.4,575.8 929.5,579.7 929.2,580.8C928.9,581.9 928.4,583.1 927.5,583.8C926.6,584.4 924.7,584.9 923.3,585.4C921.9,586.0 920.2,586.0 919.2,587.1C918.1,588.1 917.5,590.4 917.1,591.7C916.7,592.9 916.2,595.4 916.2,595.4C916.2,595.4 918.7,597.0 920.0,597.5C921.3,598.0 923.6,598.7 925.0,598.8C926.4,598.8 928.0,598.8 929.2,597.9C930.3,597.1 931.8,595.1 932.5,593.3C933.2,591.6 933.0,588.7 933.3,587.5C933.7,586.3 934.3,585.2 935.0,584.2C935.7,583.1 937.3,582.5 937.5,581.2C937.7,580.0 937.5,565.8 937.5,565.8Z"/>
<path fill="#66ffff" d="M835.0,447.5C835.0,447.5 836.7,446.8 837.5,447.1C838.3,447.4 840.0,449.6 840.0,449.6C840.0,449.6 839.1,452.2 838.3,452.9C837.6,453.7 835.4,454.2 835.4,454.2C835.4,454.2 835.1,452.0 835.0,450.8C834.9,449.7 835.0,447.5 835.0,447.5Z"/>
<path fill="#66ffff" d="M866.2,556.7C866.2,556.7 866.9,550.5 867.1,550.0C867.2,549.5 868.3,549.2 868.3,549.2C868.3,549.2 868.8,551.9 868.8,553.3C868.7,554.7 867.9,557.5 867.9,557.5C867.9,557.5 866.2,556.7 866.2,556.7Z"/>
<path fill="#3399ff" d="M593.1,90.6C593.1,90.6 594.0,87.9 595.0,86.9C596.0,85.8 598.2,84.3 600.0,83.1C601.8,82.0 604.6,79.3 607.5,78.8C610.4,78.2 622.5,78.8 622.5,78.8C622.5,78.8 620.3,81.9 618.8,83.1C617.2,84.3 614.8,85.9 612.5,86.9C610.2,87.8 604.6,89.5 602.5,90.0C600.4,90.5 597.3,90.9 596.2,91.0C595.2,91.1 593.1,90.6 593.1,90.6Z"/>
<path fill="#3399ff" d="M508.5,278.8C508.6,277.8 508.9,274.1 510.0,272.5C511.1,270.9 513.1,269.9 515.0,269.4C516.9,268.9 522.5,268.8 523.8,269.0C525.0,269.2 526.9,271.2 526.9,271.2C526.9,271.2 525.0,274.3 523.8,275.6C522.5,276.9 520.1,279.1 518.8,280.0C517.4,280.9 516.0,281.6 514.4,281.9C512.8,282.1 510.2,282.0 509.4,281.5C508.5,281.0 508.4,279.7 508.5,278.8Z"/>
<path fill="#3399ff" d="M514.0,307.5C514.1,306.4 514.8,304.8 515.6,303.8C516.5,302.7 520.0,299.1 521.2,298.1C522.5,297.1 525.6,295.9 525.6,295.9C525.6,295.9 526.3,298.2 526.0,299.4C525.7,300.5 524.4,303.3 523.1,305.0C521.8,306.7 519.1,308.7 518.1,309.4C517.1,310.0 514.8,310.6 514.8,310.6C514.8,310.6 513.9,308.6 514.0,307.5Z"/>
<path fill="#3399ff" d="M578.1,300.6C577.9,299.0 578.7,297.2 580.0,296.2C581.3,295.3 584.5,294.9 586.2,295.0C588.0,295.1 589.6,296.1 591.2,296.9C592.9,297.7 594.3,299.6 596.2,300.0C598.2,300.4 602.1,299.6 605.0,299.4C607.9,299.2 615.0,298.8 615.0,298.8C615.0,298.8 613.0,304.2 612.5,305.6C612.0,307.1 611.2,310.0 611.2,310.0C611.2,310.0 614.6,311.6 616.2,311.2C617.9,310.9 620.3,308.5 622.5,307.5C624.7,306.5 627.5,305.2 630.0,305.0C632.5,304.8 635.7,305.2 637.5,306.2C639.3,307.3 639.6,310.0 641.2,311.2C642.9,312.5 645.3,313.2 647.5,313.8C649.7,314.3 652.5,315.2 655.0,315.0C657.5,314.8 661.8,313.7 665.0,312.5C668.2,311.3 671.6,309.2 675.0,307.5C678.4,305.8 681.8,303.7 685.0,302.5C688.2,301.3 693.3,300.2 695.0,300.0C696.7,299.8 698.8,299.7 700.0,300.6C701.2,301.6 701.6,303.5 701.2,305.0C700.9,306.5 698.2,309.7 697.5,311.2C696.8,312.8 696.2,316.2 696.2,316.2C696.2,316.2 701.1,319.4 703.8,319.0C706.4,318.6 710.6,314.0 710.6,314.0C710.6,314.0 710.6,345.0 710.6,345.0C710.6,345.0 701.7,346.0 697.5,346.2C693.3,346.5 687.3,345.6 685.0,346.2C682.7,346.9 682.3,350.8 680.0,351.2C677.7,351.7 674.6,348.9 672.5,348.8C670.4,348.6 668.2,349.0 666.2,350.0C664.3,351.0 661.9,353.1 660.0,355.0C658.1,356.9 656.4,360.1 655.0,361.2C653.6,362.4 651.8,363.1 650.0,363.1C648.2,363.1 646.3,362.5 645.0,361.2C643.7,360.0 642.9,356.8 641.2,355.0C639.6,353.2 636.2,351.4 635.0,350.0C633.8,348.6 633.5,346.6 632.5,345.0C631.5,343.4 629.1,340.5 627.5,338.8C625.9,337.0 624.4,335.0 622.5,333.8C620.6,332.5 616.2,331.2 616.2,331.2C616.2,331.2 618.9,328.9 620.0,327.5C621.1,326.1 623.8,322.9 624.4,321.2C624.9,319.6 623.8,316.2 623.8,316.2C623.8,316.2 620.3,316.6 618.8,317.5C617.2,318.4 615.8,319.7 615.0,321.2C614.2,322.8 613.8,327.5 613.8,327.5C613.8,327.5 610.3,328.9 608.8,328.1C607.2,327.4 605.6,323.6 603.8,322.5C601.9,321.4 599.3,321.8 597.5,321.2C595.7,320.7 592.5,318.8 592.5,318.8C592.5,318.8 593.8,315.4 594.4,313.8C595.0,312.1 596.2,308.1 596.2,308.1C596.2,308.1 592.8,310.6 591.2,311.2C589.7,311.9 587.9,313.1 586.2,312.5C584.6,311.9 582.6,309.5 581.2,307.5C579.9,305.5 578.3,302.2 578.1,300.6Z"/>
<path fill="#3399ff" d="M688.8,301.9C688.8,301.9 693.3,300.4 695.0,300.2C696.7,300.1 699.0,300.2 700.0,300.6C701.0,301.0 702.0,302.1 701.9,303.1C701.7,304.2 699.8,307.3 698.8,308.8C697.7,310.2 696.5,311.6 695.0,312.5C693.5,313.4 688.8,315.0 688.8,315.0C688.8,315.0 688.8,301.9 688.8,301.9Z"/>
<path fill="#3399ff" d="M688.8,329.4C690.1,326.0 694.6,325.1 697.5,323.1C700.4,321.2 703.5,319.6 706.2,317.5C709.0,315.4 712.6,311.8 715.0,310.0C717.4,308.2 719.8,306.3 722.5,305.0C725.2,303.7 728.8,302.9 731.2,302.5C733.7,302.1 738.8,302.2 738.8,302.2C738.8,302.2 737.2,304.2 736.2,305.0C735.3,305.8 732.2,308.4 730.0,310.0C727.8,311.6 724.9,313.2 722.5,315.0C720.1,316.8 717.2,319.3 715.0,321.2C712.8,323.2 709.7,326.1 708.8,327.5C707.8,328.9 706.8,330.9 707.5,332.5C708.2,334.1 713.8,338.1 713.8,338.1C713.8,338.1 710.7,341.3 708.8,342.5C706.8,343.7 704.5,344.5 702.5,345.0C700.5,345.5 698.4,345.8 696.2,345.6C694.1,345.5 688.8,344.0 688.8,344.0C688.8,344.0 687.4,332.7 688.8,329.4Z"/>
<path fill="#3399ff" d="M734.0,288.1C734.0,288.1 735.2,285.4 736.2,284.4C737.3,283.3 740.6,280.7 741.2,280.4C741.9,280.1 743.1,281.2 743.1,281.2C743.1,281.2 741.8,284.4 740.6,285.6C739.5,286.9 737.0,288.5 736.2,288.8C735.5,289.0 734.0,288.1 734.0,288.1Z"/>
<path fill="#3399ff" d="M724.0,352.5C724.0,352.5 725.3,349.5 726.2,348.1C727.2,346.8 730.0,344.4 730.0,344.4C730.0,344.4 732.5,346.2 732.5,346.2C732.5,346.2 730.9,349.4 730.0,350.6C729.1,351.8 727.9,353.4 726.9,353.8C725.9,354.1 724.0,352.5 724.0,352.5Z"/>
<path fill="#3399ff" d="M760.0,329.4C760.0,329.4 760.9,326.6 761.9,325.6C762.9,324.6 766.2,323.1 766.2,323.1C766.2,323.1 768.1,325.0 768.1,325.0C768.1,325.0 766.1,327.9 765.0,328.8C763.9,329.6 761.2,330.6 761.2,330.6C761.2,330.6 760.0,329.4 760.0,329.4Z"/>
<path fill="#3399ff" d="M649.2,362.9C649.2,362.9 652.0,359.9 653.3,358.3C654.7,356.8 656.0,354.7 657.5,353.3C659.0,352.0 661.2,350.7 662.5,350.0C663.8,349.3 665.2,348.4 666.7,348.3C668.2,348.3 670.0,349.0 671.7,349.6C673.3,350.2 675.1,352.0 676.7,352.1C678.2,352.2 679.6,350.9 680.8,350.0C682.1,349.1 683.5,347.4 684.2,346.7C684.8,345.9 685.8,344.2 685.8,344.2C685.8,344.2 649.2,344.2 649.2,344.2C649.2,344.2 649.2,362.9 649.2,362.9Z"/>
<path fill="#3399ff" d="M724.2,352.9C724.2,352.5 724.5,350.9 725.0,350.0C725.5,349.1 726.8,347.4 727.5,346.7C728.2,346.0 729.1,345.1 730.0,345.0C730.9,344.9 732.5,345.8 732.5,345.8C732.5,345.8 732.5,347.8 732.1,348.8C731.7,349.7 730.7,350.9 730.0,351.7C729.3,352.5 728.3,353.4 727.5,353.8C726.7,354.1 725.4,353.8 725.0,353.8C724.6,353.7 724.2,353.3 724.2,352.9Z"/>
<path fill="#3399ff" d="M689.2,420.8C689.2,420.8 689.3,414.1 691.7,412.1C694.0,410.1 701.0,410.1 703.3,408.8C705.7,407.4 706.3,404.3 708.3,402.5C710.3,400.7 713.3,399.1 715.8,397.5C718.3,395.9 723.3,392.7 723.3,392.7C723.3,392.7 725.4,395.0 725.4,395.0C725.4,395.0 723.5,398.4 722.5,400.0C721.5,401.6 720.2,403.2 719.2,405.0C718.2,406.8 716.6,410.2 715.8,411.7C715.1,413.1 714.4,414.6 713.3,415.8C712.3,417.1 710.7,420.4 708.3,420.8C706.0,421.3 689.2,420.8 689.2,420.8Z"/>
<path fill="#3399ff" d="M739.0,380.8C739.0,380.8 738.9,377.9 739.6,376.7C740.3,375.4 743.2,372.5 744.2,372.1C745.1,371.7 746.5,372.7 747.1,373.3C747.6,374.0 747.9,375.1 747.5,375.8C747.1,376.6 745.2,378.2 744.2,379.2C743.1,380.1 741.5,381.5 740.8,381.7C740.2,381.9 739.0,380.8 739.0,380.8Z"/>
<path fill="#3399ff" d="M726.7,420.8C726.7,420.8 727.0,417.8 727.9,416.7C728.9,415.6 731.0,415.1 732.5,414.2C734.0,413.2 735.4,412.1 736.7,410.8C737.9,409.6 739.3,407.2 740.8,405.8C742.3,404.5 744.7,403.7 745.8,402.5C747.0,401.3 747.6,399.3 748.3,398.3C749.0,397.4 750.8,395.8 750.8,395.8C750.8,395.8 750.8,420.8 750.8,420.8C750.8,420.8 726.7,420.8 726.7,420.8Z"/>
<path fill="#3399ff" d="M749.2,405.8C749.2,405.8 751.4,403.6 752.5,402.5C753.6,401.4 755.3,399.7 756.7,398.3C758.1,396.9 759.8,395.4 760.8,394.2C761.9,392.9 762.6,391.5 763.3,390.0C764.1,388.5 764.9,386.0 765.8,384.2C766.7,382.3 768.8,378.8 768.8,378.8C768.8,378.8 767.4,377.9 766.7,377.9C765.9,377.9 764.3,378.1 763.3,378.8C762.3,379.4 760.5,381.1 759.2,382.5C757.9,383.9 756.3,386.0 755.0,387.5C753.7,389.0 751.4,391.1 750.8,391.7C750.3,392.2 749.3,392.5 749.2,393.3C749.1,394.1 749.2,405.8 749.2,405.8Z"/>
<path fill="#3399ff" d="M772.9,376.7C772.9,376.7 773.2,375.0 773.8,374.6C774.3,374.1 776.0,373.7 776.7,373.8C777.3,373.8 778.0,374.4 778.2,375.0C778.3,375.6 778.0,376.6 777.5,377.1C777.0,377.6 775.8,378.0 775.0,377.9C774.2,377.8 772.9,376.7 772.9,376.7Z"/>
<path fill="#3399ff" d="M772.1,399.2C772.2,398.2 773.3,396.3 774.2,395.0C775.0,393.7 776.6,391.5 777.5,390.8C778.4,390.1 779.7,389.7 780.8,390.0C782.0,390.3 783.5,391.8 785.0,392.5C786.5,393.2 788.9,393.4 790.0,394.2C791.1,394.9 791.9,396.3 792.1,397.5C792.2,398.7 791.6,399.9 790.8,400.8C790.0,401.7 788.2,403.0 786.7,403.8C785.1,404.5 783.4,405.1 781.7,405.0C779.9,404.9 776.8,403.7 775.8,403.3C774.9,403.0 774.0,402.4 773.3,401.7C772.7,401.0 772.0,400.1 772.1,399.2Z"/>
<path fill="#3399ff" d="M795.0,409.6C795.0,409.6 798.6,408.7 800.0,408.3C801.4,407.9 802.7,407.2 804.2,407.1C805.6,407.0 808.5,408.0 810.0,407.5C811.5,407.0 812.3,404.7 813.3,404.2C814.3,403.7 816.7,404.2 816.7,404.2C816.7,404.2 817.9,406.9 817.9,408.3C817.9,409.8 817.6,411.9 816.7,413.3C815.7,414.8 813.8,416.0 812.5,416.7C811.2,417.4 809.8,418.0 808.3,417.9C806.9,417.8 805.0,416.5 803.3,415.8C801.7,415.2 799.8,415.2 798.3,414.2C796.9,413.1 795.0,409.6 795.0,409.6Z"/>
<path fill="#3399ff" d="M748.3,463.3C748.7,462.4 750.8,461.7 750.8,461.7C750.8,461.7 750.8,468.3 750.8,468.3C750.8,468.3 749.1,468.2 748.8,467.5C748.4,466.8 748.0,464.3 748.3,463.3Z"/>
<path fill="#3399ff" d="M689.2,419.2C689.2,419.2 688.5,423.0 688.3,425.0C688.1,427.0 687.7,429.4 687.9,430.8C688.2,432.3 688.9,433.6 690.0,434.6C691.1,435.6 692.6,436.4 694.2,436.7C695.7,436.9 698.4,436.8 700.0,436.2C701.6,435.7 702.9,434.3 704.2,433.3C705.4,432.3 706.7,431.4 707.5,430.0C708.3,428.6 708.5,426.6 709.2,425.0C709.8,423.4 711.5,420.3 711.7,420.0C711.8,419.7 712.1,419.2 712.1,419.2C712.1,419.2 689.2,419.2 689.2,419.2Z"/>
<path fill="#3399ff" d="M714.2,432.5C713.8,433.3 714.0,434.4 714.6,435.0C715.2,435.6 717.0,436.6 718.3,436.7C719.7,436.7 721.6,435.5 723.3,435.4C725.1,435.4 727.5,436.2 729.2,436.2C730.9,436.2 732.7,435.7 734.2,435.4C735.6,435.1 737.2,434.3 738.3,434.2C739.5,434.0 741.0,434.2 741.7,434.6C742.3,435.0 742.6,435.9 742.5,436.7C742.4,437.4 741.4,439.4 740.8,440.8C740.3,442.2 739.5,443.6 739.2,445.0C738.8,446.4 738.5,448.3 738.8,449.2C739.0,450.0 740.0,450.6 740.8,450.8C741.7,451.0 743.2,450.9 744.2,450.4C745.2,449.9 746.4,448.5 747.5,447.5C748.6,446.5 750.6,445.7 750.8,444.2C751.0,442.6 750.8,419.2 750.8,419.2C750.8,419.2 729.6,419.2 729.6,419.2C729.6,419.2 729.1,420.9 728.8,421.7C728.4,422.5 727.3,425.0 726.2,426.2C725.2,427.5 723.9,428.5 722.5,429.2C721.1,429.9 717.6,430.5 716.7,430.8C715.7,431.2 714.5,431.7 714.2,432.5Z"/>
<path fill="#3399ff" d="M739.3,408.3C739.4,407.0 741.7,407.2 742.7,406.3C743.7,405.5 745.6,403.6 746.7,402.3C747.7,401.1 748.6,399.6 749.3,398.3C750.1,397.0 749.9,394.8 751.3,394.3C752.8,393.9 761.3,394.3 761.3,394.3C761.3,394.3 758.2,398.5 756.7,400.3C755.2,402.2 753.6,403.9 752.0,405.7C750.4,407.5 748.2,409.8 747.3,411.0C746.5,412.2 745.7,413.5 745.3,415.0C745.0,416.5 745.0,419.9 745.0,421.7C745.0,423.5 744.8,425.9 745.3,427.0C745.9,428.1 747.5,428.3 748.7,428.3C749.9,428.4 752.7,427.3 752.7,427.3C752.7,427.3 752.4,430.7 752.0,432.3C751.6,434.0 750.5,435.8 750.0,437.7C749.5,439.5 749.2,441.8 748.7,443.7C748.1,445.5 747.6,447.9 746.7,449.0C745.7,450.1 743.8,450.0 742.7,450.3C741.6,450.6 739.3,451.0 739.3,451.0C739.3,451.0 739.2,409.6 739.3,408.3Z"/>
<path fill="#3399ff" d="M772.3,399.7C772.3,399.7 773.9,397.2 774.7,396.3C775.4,395.5 776.2,394.5 777.3,394.3C778.4,394.2 789.5,394.1 790.7,394.3C791.8,394.6 791.9,396.7 792.0,397.7C792.1,398.6 791.7,399.5 791.3,400.3C790.9,401.2 790.2,402.3 789.3,403.0C788.4,403.7 786.8,404.5 785.3,404.7C783.9,404.9 781.8,404.7 780.0,404.3C778.2,404.0 775.8,403.3 774.7,402.7C773.6,402.0 772.3,399.7 772.3,399.7Z"/>
<path fill="#3399ff" d="M795.3,410.3C795.3,410.3 798.7,408.8 800.0,408.3C801.3,407.8 802.6,407.1 804.0,407.0C805.4,406.9 809.5,407.6 810.7,407.3C811.8,407.1 812.3,405.5 813.3,405.0C814.4,404.5 816.7,404.3 816.7,404.3C816.7,404.3 817.9,406.0 818.0,407.0C818.1,408.0 818.2,410.9 817.7,412.3C817.1,413.7 815.9,414.8 814.7,415.7C813.5,416.6 812.0,417.4 810.7,417.7C809.3,417.9 808.0,417.4 806.7,417.0C805.4,416.6 804.0,415.4 802.7,415.0C801.4,414.6 799.8,415.1 798.7,414.3C797.5,413.6 795.3,410.3 795.3,410.3Z"/>
<path fill="#3399ff" d="M756.0,456.0C756.0,456.0 756.9,450.2 757.3,448.3C757.8,446.5 758.4,444.7 759.3,443.0C760.2,441.3 761.5,439.6 762.7,438.3C763.8,437.0 765.4,435.8 766.7,435.0C767.9,434.2 769.2,433.5 770.7,433.3C772.1,433.1 774.6,433.4 776.0,433.7C777.4,433.9 779.0,434.0 780.0,435.0C781.0,436.0 781.1,437.6 781.3,439.0C781.6,440.4 781.9,442.9 781.7,444.3C781.5,445.8 780.7,447.1 780.0,448.3C779.3,449.6 778.1,450.4 777.3,451.7C776.6,452.9 776.9,455.7 775.3,456.0C773.8,456.3 756.0,456.0 756.0,456.0Z"/>
<path fill="#3399ff" d="M788.0,456.0C788.0,456.0 789.6,452.4 790.7,451.0C791.8,449.6 793.2,448.3 794.7,447.7C796.1,447.0 798.2,446.8 799.3,447.0C800.4,447.2 801.6,448.0 802.0,449.0C802.4,450.0 803.0,456.0 803.0,456.0C803.0,456.0 788.0,456.0 788.0,456.0Z"/>
<path fill="#3399ff" d="M749.2,455.8C749.5,454.5 751.6,454.4 752.5,453.3C753.4,452.3 754.9,450.1 755.8,448.3C756.7,446.5 757.4,443.5 758.3,441.7C759.2,439.9 760.3,438.0 761.7,436.7C763.1,435.3 764.8,434.4 766.7,433.8C768.5,433.1 770.5,432.8 772.5,432.9C774.5,433.0 777.0,433.5 778.3,434.2C779.7,434.9 780.8,436.1 781.2,437.5C781.7,438.9 782.0,442.6 781.7,444.2C781.4,445.8 780.1,447.0 779.2,448.3C778.2,449.7 776.5,451.8 775.0,453.3C773.5,454.9 771.3,456.2 770.0,457.5C768.7,458.8 767.8,460.3 766.7,461.7C765.5,463.1 763.7,465.5 762.5,466.7C761.3,467.8 760.0,469.3 758.3,469.6C756.7,469.9 754.7,468.5 753.3,468.3C751.9,468.1 749.2,468.3 749.2,468.3C749.2,468.3 748.9,457.2 749.2,455.8Z"/>
<path fill="#3399ff" d="M780.4,463.3C780.7,462.8 782.2,461.0 783.3,460.0C784.4,459.0 786.4,457.9 787.5,456.7C788.6,455.4 788.9,453.7 790.0,452.5C791.1,451.3 792.6,449.7 794.2,448.8C795.7,447.8 797.9,447.1 799.2,447.1C800.4,447.1 801.9,447.7 802.5,448.8C803.1,449.8 803.2,452.0 802.9,453.3C802.6,454.6 801.8,455.8 800.8,456.7C799.9,457.6 798.2,458.5 796.7,459.2C795.2,459.8 793.2,460.0 791.7,460.8C790.1,461.7 788.8,463.5 787.5,464.2C786.2,464.9 784.2,465.3 783.3,465.4C782.5,465.5 781.3,465.3 780.8,465.0C780.4,464.7 780.2,463.8 780.4,463.3Z"/>
<path fill="#3399ff" d="M749.2,426.7C749.2,426.7 752.5,427.1 752.5,427.1C752.5,427.1 753.0,429.0 752.9,430.0C752.8,431.0 752.2,433.2 751.7,434.2C751.1,435.1 749.2,436.2 749.2,436.2C749.2,436.2 749.2,426.7 749.2,426.7Z"/>
<path fill="#3399ff" d="M775.0,496.2C775.0,496.2 775.9,491.5 776.7,489.2C777.5,486.9 778.7,483.6 780.0,481.7C781.3,479.7 783.3,478.3 785.0,476.7C786.7,475.0 789.1,472.3 791.7,470.8C794.2,469.4 797.2,469.2 800.0,468.3C802.8,467.4 806.1,466.2 808.3,465.4C810.6,464.7 813.7,463.4 815.0,463.3C816.3,463.3 817.4,464.2 818.3,465.0C819.3,465.8 820.2,468.2 821.7,469.2C823.2,470.2 825.9,471.7 828.3,471.7C830.7,471.7 834.7,470.1 836.7,469.2C838.6,468.2 840.2,466.3 841.7,465.0C843.1,463.7 844.6,461.7 845.8,460.8C847.1,460.0 849.6,459.3 850.0,459.2C850.4,459.0 851.2,458.8 851.2,458.8C851.2,458.8 851.2,496.2 851.2,496.2C851.2,496.2 775.0,496.2 775.0,496.2Z"/>
<path fill="#3399ff" d="M849.2,459.2C849.2,459.2 851.9,460.4 852.5,461.7C853.1,462.9 853.7,466.1 853.8,468.3C853.8,470.6 853.3,473.0 852.9,475.0C852.5,477.0 851.6,480.2 851.2,480.8C850.9,481.5 849.2,481.7 849.2,481.7C849.2,481.7 849.2,459.2 849.2,459.2Z"/>
<path fill="#3399ff" d="M849.2,483.3C850.0,480.9 852.9,479.8 855.0,478.3C857.1,476.9 860.6,474.6 862.5,474.2C864.4,473.7 866.4,474.6 868.3,475.0C870.3,475.4 872.7,476.7 874.2,476.7C875.7,476.7 877.1,475.4 878.3,475.0C879.6,474.6 882.1,474.2 882.1,474.2C882.1,474.2 883.1,476.4 882.9,477.5C882.7,478.6 881.3,480.9 880.8,482.5C880.4,484.1 879.7,485.8 880.0,487.5C880.3,489.2 881.9,491.3 882.5,492.5C883.1,493.7 884.2,496.2 884.2,496.2C884.2,496.2 849.2,496.2 849.2,496.2C849.2,496.2 848.4,485.8 849.2,483.3Z"/>
<path fill="#3399ff" d="M778.3,484.2C778.3,484.2 779.9,488.0 780.0,490.0C780.1,492.0 778.6,494.0 778.8,495.8C778.9,497.6 779.8,499.7 780.8,500.8C781.9,502.0 783.4,502.9 785.0,502.9C786.6,502.9 787.9,501.8 789.2,500.8C790.4,499.9 792.6,497.3 794.2,495.8C795.8,494.4 797.9,492.5 799.2,491.7C800.4,490.9 803.3,490.0 803.3,490.0C803.3,490.0 803.7,493.4 803.3,495.0C803.0,496.6 801.2,499.7 800.8,501.7C800.5,503.6 800.6,506.1 801.2,507.5C801.9,508.9 803.6,509.3 805.0,510.0C806.4,510.7 808.6,510.6 810.0,511.7C811.4,512.7 812.8,514.9 814.2,516.7C815.5,518.4 816.8,520.6 818.3,522.5C819.8,524.4 821.4,527.0 823.3,528.3C825.3,529.7 827.8,530.1 830.0,530.4C832.2,530.7 834.4,529.8 836.7,530.0C838.9,530.2 841.7,530.9 843.3,531.7C845.0,532.4 846.9,533.4 847.5,535.0C848.1,536.6 847.1,538.3 846.7,540.0C846.3,541.7 845.0,545.0 845.0,545.0C845.0,545.0 847.0,546.9 848.3,547.1C849.6,547.2 851.5,546.9 852.5,545.8C853.5,544.8 854.2,541.7 855.0,540.0C855.8,538.3 856.4,536.4 857.5,535.0C858.6,533.6 860.0,532.1 861.7,531.7C863.3,531.2 865.1,531.9 866.7,532.5C868.3,533.1 871.2,535.0 871.2,535.0C871.2,535.0 871.2,484.2 871.2,484.2C871.2,484.2 778.3,484.2 778.3,484.2Z"/>
<path fill="#3399ff" d="M849.2,484.2C849.2,484.2 878.7,483.8 880.8,484.2C882.9,484.5 882.5,488.0 883.3,490.0C884.2,492.0 884.9,493.9 885.8,495.8C886.8,497.7 888.4,500.1 889.2,501.7C889.9,503.3 890.8,504.9 890.8,506.7C890.8,508.4 889.2,511.7 889.2,511.7C889.2,511.7 892.0,510.4 893.3,510.0C894.7,509.6 896.1,508.7 897.5,509.2C898.9,509.6 900.0,511.1 900.8,512.5C901.6,513.9 902.0,516.1 902.5,517.5C903.0,518.9 903.4,520.3 904.2,521.7C904.9,523.0 906.3,526.0 907.5,526.7C908.7,527.4 910.2,525.8 911.7,525.8C913.1,525.8 915.3,525.6 916.7,526.7C918.0,527.7 918.5,529.9 919.2,531.7C919.8,533.4 920.3,536.1 920.8,538.3C921.3,540.6 922.4,544.1 922.5,546.7C922.6,549.2 922.2,551.7 921.7,554.2C921.1,556.6 919.2,561.2 919.2,561.2C919.2,561.2 888.6,561.5 886.7,561.2C884.8,561.0 884.2,558.2 883.3,556.7C882.5,555.1 882.1,553.3 881.7,551.7C881.3,550.0 880.7,548.4 880.8,546.7C880.9,545.0 882.4,541.4 882.5,539.2C882.6,536.9 882.1,534.1 881.7,532.5C881.2,530.9 879.2,528.3 879.2,528.3C879.2,528.3 876.3,529.2 875.0,530.0C873.7,530.8 872.5,533.2 870.8,533.3C869.2,533.5 868.3,531.1 866.7,530.8C865.1,530.6 862.8,531.4 860.8,531.7C858.9,531.9 856.9,532.1 855.0,532.5C853.1,532.9 849.2,534.2 849.2,534.2C849.2,534.2 849.2,484.2 849.2,484.2Z"/>
<path fill="#3399ff" d="M880.0,566.7C879.8,565.7 880.5,563.7 880.8,562.5C881.2,561.3 881.1,559.8 882.1,559.2C883.1,558.5 886.2,559.2 886.2,559.2C886.2,559.2 886.2,562.0 885.8,563.3C885.5,564.7 884.7,566.3 884.2,567.1C883.7,567.8 882.1,568.8 882.1,568.8C882.1,568.8 880.2,567.6 880.0,566.7Z"/>
<path fill="#3399ff" d="M908.3,559.2C908.3,559.2 908.2,563.1 907.5,565.0C906.8,566.9 904.2,568.6 904.2,570.8C904.2,573.1 906.9,575.1 907.5,576.7C908.1,578.3 908.5,580.0 908.3,581.7C908.2,583.4 907.4,585.6 906.7,587.5C906.0,589.4 905.1,591.4 904.2,593.3C903.3,595.3 901.5,597.8 900.8,600.0C900.2,602.2 900.0,606.7 900.0,606.7C900.0,606.7 902.4,605.8 903.3,605.0C904.3,604.2 907.0,601.0 908.3,599.2C909.6,597.3 910.8,595.0 911.7,593.3C912.6,591.7 913.5,590.0 914.2,588.3C914.8,586.7 915.8,585.1 915.8,583.3C915.9,581.6 915.2,579.1 914.6,577.5C913.9,575.9 912.1,575.0 911.7,573.3C911.2,571.7 911.3,569.8 912.1,568.3C912.8,566.8 914.6,566.2 915.8,565.0C917.1,563.8 919.6,561.3 920.0,560.8C920.4,560.4 920.8,559.2 920.8,559.2C920.8,559.2 908.3,559.2 908.3,559.2Z"/>
<path fill="#3399ff" d="M907.9,613.3C908.0,612.6 908.2,610.5 908.8,609.2C909.3,607.9 910.8,606.1 911.7,605.0C912.5,603.9 913.5,602.5 914.6,602.1C915.6,601.7 917.1,601.9 917.9,602.5C918.8,603.1 919.4,604.4 919.2,605.4C919.0,606.5 917.6,607.9 916.7,609.2C915.8,610.4 914.3,612.2 913.3,613.3C912.4,614.5 910.4,616.7 910.4,616.7C910.4,616.7 908.8,616.0 908.3,615.4C907.9,614.8 907.9,614.0 907.9,613.3Z"/>
<path fill="#3399ff" d="M920.8,610.8C921.2,609.5 922.2,608.4 923.3,607.5C924.4,606.6 926.9,605.8 928.3,605.0C929.8,604.2 931.3,603.3 932.5,602.5C933.7,601.7 935.1,600.4 935.8,600.0C936.6,599.6 938.3,599.2 938.3,599.2C938.3,599.2 938.3,628.3 938.3,628.3C938.3,628.3 934.8,627.6 933.3,626.7C931.8,625.7 930.6,623.9 929.2,622.5C927.8,621.1 926.2,619.5 925.0,618.3C923.8,617.2 921.9,616.2 921.2,615.0C920.6,613.8 920.5,612.2 920.8,610.8Z"/>
<path fill="#3399ff" d="M862.9,319.9C862.9,319.9 863.9,319.9 863.9,319.9C863.9,319.9 863.9,320.9 863.9,320.9C863.9,320.9 862.9,320.9 862.9,320.9C862.9,320.9 862.9,319.9 862.9,319.9Z"/>
<path fill="#66ffff" d="M668.8,331.5C668.8,331.5 672.8,327.9 675.0,326.2C677.2,324.6 680.1,323.3 682.5,321.5C684.9,319.7 688.4,316.4 690.0,315.2C691.6,314.1 694.2,312.9 695.0,312.5C695.8,312.1 697.5,311.5 697.5,311.5C697.5,311.5 698.1,315.0 698.1,315.0C698.1,315.0 701.9,316.1 703.8,315.5C705.6,314.9 710.6,311.0 710.6,311.0C710.6,311.0 711.9,312.5 711.9,312.5C711.9,312.5 708.3,316.0 706.2,317.5C704.2,319.0 700.1,321.3 697.5,323.1C694.9,324.9 692.9,327.5 690.0,328.8C687.1,330.0 683.4,330.6 680.0,331.0C676.6,331.4 668.8,331.5 668.8,331.5Z"/>
<path fill="#66ffff" d="M739.3,433.7C739.3,433.7 741.1,433.7 741.7,434.3C742.2,435.0 742.7,436.5 742.7,437.7C742.6,438.8 741.8,440.5 741.3,441.0C740.9,441.5 739.3,441.7 739.3,441.7C739.3,441.7 739.3,433.7 739.3,433.7Z"/>
<path fill="#66ffff" d="M888.3,561.2C888.3,561.2 888.3,557.4 889.2,555.8C890.1,554.2 892.9,551.7 894.2,550.8C895.4,549.9 896.9,549.0 898.3,549.2C899.7,549.3 900.8,550.5 901.7,551.7C902.5,552.8 903.0,554.4 903.3,555.8C903.7,557.3 904.2,561.2 904.2,561.2C904.2,561.2 888.3,561.2 888.3,561.2Z"/>
<path fill="#ffffff" d="M694.4,317.5C694.4,317.5 696.9,316.2 696.9,316.2C696.9,316.2 698.1,317.5 698.1,317.5C698.1,317.5 696.2,318.5 695.6,318.5C695.1,318.5 694.4,317.5 694.4,317.5Z"/>
<path fill="#ffffff" d="M891.7,561.2C891.7,561.2 892.6,556.9 893.3,555.8C894.1,554.8 896.7,554.2 896.7,554.2C896.7,554.2 898.5,556.3 899.2,557.5C899.9,558.7 900.8,561.2 900.8,561.2C900.8,561.2 891.7,561.2 891.7,561.2Z"/>
<path fill="#0000ff" d="M627.5,330.0C627.7,328.7 629.3,324.4 630.0,322.5C630.7,320.6 631.6,318.0 632.5,316.9C633.4,315.8 634.8,315.1 636.2,315.0C637.7,314.9 642.0,316.0 645.0,316.2C648.0,316.5 651.6,317.1 655.0,316.9C658.4,316.7 662.7,316.2 666.2,315.0C669.8,313.8 673.0,311.4 676.2,310.0C679.5,308.6 684.6,306.7 686.2,306.2C687.9,305.8 690.4,305.9 691.2,306.2C692.1,306.6 692.5,308.8 692.5,308.8C692.5,308.8 689.3,312.2 687.5,313.8C685.7,315.3 682.4,318.2 680.0,320.0C677.6,321.8 674.7,323.4 672.5,325.0C670.3,326.6 667.5,328.6 666.2,330.0C665.0,331.4 663.8,335.0 663.8,335.0C663.8,335.0 667.1,335.2 668.8,335.0C670.4,334.8 674.6,334.3 677.5,333.8C680.4,333.2 684.6,332.0 686.2,331.9C687.9,331.7 691.2,332.5 691.2,332.5C691.2,332.5 690.9,334.9 690.0,335.6C689.1,336.3 685.7,337.5 683.8,338.8C681.8,340.0 679.9,342.5 677.5,343.8C675.1,345.0 670.9,346.0 668.8,346.9C666.6,347.8 664.4,348.6 662.5,350.0C660.6,351.4 659.4,353.6 657.5,355.0C655.6,356.4 652.6,358.0 651.2,358.1C649.9,358.3 647.5,356.2 647.5,356.2C647.5,356.2 647.4,352.8 648.1,351.2C648.8,349.7 651.0,347.1 652.5,345.0C654.0,342.9 656.5,340.3 657.5,338.8C658.5,337.2 659.8,334.7 660.0,333.8C660.2,332.8 658.8,331.2 658.8,331.2C658.8,331.2 656.0,332.6 655.0,333.8C654.0,334.9 653.5,337.2 652.5,338.8C651.5,340.3 649.3,343.4 647.5,345.0C645.7,346.6 642.7,348.0 641.2,348.8C639.8,349.5 636.9,350.6 636.9,350.6C636.9,350.6 635.3,347.8 635.0,346.2C634.7,344.7 635.6,341.7 635.0,340.0C634.4,338.3 632.2,337.2 631.2,336.2C630.3,335.3 628.8,334.8 628.1,333.8C627.5,332.7 627.3,331.3 627.5,330.0Z"/>
<path fill="#0000ff" d="M601.9,314.1C601.9,314.1 602.9,313.1 602.9,313.1C602.9,313.1 603.9,314.1 603.9,314.1C603.9,314.1 602.9,315.1 602.9,315.1C602.9,315.1 601.9,314.1 601.9,314.1Z"/>
<path fill="#0000ff" d="M710.8,407.5C711.0,407.0 713.3,403.3 713.3,403.3C713.3,403.3 715.0,403.8 715.0,403.8C715.0,403.8 713.8,406.4 713.3,407.1C712.9,407.7 711.7,408.8 711.7,408.8C711.7,408.8 710.7,408.0 710.8,407.5Z"/>
<path fill="#0000ff" d="M702.1,420.8C702.1,420.8 704.2,416.2 704.2,416.2C704.2,416.2 707.5,416.7 707.5,416.7C707.5,416.7 706.7,420.8 706.7,420.8C706.7,420.8 702.1,420.8 702.1,420.8Z"/>
<path fill="#0000ff" d="M753.8,395.0C753.7,394.1 754.4,392.7 755.0,391.7C755.6,390.7 756.8,389.0 757.9,388.3C759.0,387.7 761.7,387.9 761.7,387.9C761.7,387.9 761.4,390.5 760.8,391.7C760.3,392.8 759.2,394.1 758.3,395.0C757.5,395.9 755.4,397.1 755.4,397.1C755.4,397.1 753.8,395.9 753.8,395.0Z"/>
<path fill="#0000ff" d="M697.9,427.9C697.9,427.9 698.5,425.3 699.2,424.2C699.8,423.0 701.8,420.4 702.1,420.0C702.4,419.6 702.8,419.3 703.3,419.2C703.8,419.1 705.8,419.2 705.8,419.2C705.8,419.2 704.8,421.4 704.2,422.5C703.6,423.6 702.3,425.9 701.7,426.7C701.1,427.5 699.6,428.8 699.6,428.8C699.6,428.8 697.9,427.9 697.9,427.9Z"/>
<path fill="#0000ff" d="M731.2,428.3C731.3,427.3 731.9,425.5 732.5,424.2C733.1,422.8 734.8,420.3 735.0,420.0C735.2,419.7 735.4,419.3 735.8,419.2C736.2,419.1 737.7,418.6 738.3,419.2C738.9,419.8 739.9,422.2 740.0,423.3C740.1,424.5 739.7,425.7 739.2,426.7C738.6,427.7 737.6,428.4 736.7,429.2C735.8,429.9 733.7,431.5 733.3,431.7C732.9,431.8 732.3,431.6 732.1,431.2C731.8,430.9 731.2,429.4 731.2,428.3Z"/>
<path fill="#0000ff" d="M753.7,394.3C753.7,394.3 753.9,395.6 754.3,396.0C754.8,396.4 755.7,396.6 756.3,396.3C757.0,396.1 758.0,394.3 758.0,394.3C758.0,394.3 753.7,394.3 753.7,394.3Z"/>
<path fill="#0000ff" d="M762.0,444.3C761.9,443.2 762.3,441.8 762.7,441.0C763.1,440.2 763.8,439.5 764.7,439.3C765.5,439.1 767.0,439.3 768.0,439.7C769.0,440.1 769.6,441.5 770.7,441.7C771.8,441.8 772.9,440.5 774.0,440.3C775.1,440.2 776.5,440.2 777.3,440.7C778.2,441.1 778.8,442.1 779.0,443.0C779.2,443.9 779.2,445.3 778.7,446.3C778.2,447.3 776.9,448.2 776.0,449.0C775.1,449.8 773.5,451.3 772.7,451.7C771.9,452.1 770.9,452.3 770.0,452.0C769.1,451.7 767.8,450.4 766.7,449.7C765.6,449.0 764.1,448.6 763.3,447.7C762.5,446.8 762.1,445.5 762.0,444.3Z"/>
<path fill="#0000ff" d="M757.9,459.2C758.1,458.4 758.4,457.4 759.2,457.1C759.9,456.7 761.3,456.5 762.1,457.1C762.9,457.6 763.3,459.0 763.3,460.0C763.4,461.0 763.1,462.3 762.5,462.9C761.9,463.6 760.8,464.0 760.0,463.8C759.2,463.5 758.7,462.4 758.3,461.7C758.0,460.9 757.8,460.0 757.9,459.2Z"/>
<path fill="#0000ff" d="M762.3,445.0C762.0,443.8 762.4,442.2 762.9,441.2C763.4,440.3 764.4,439.6 765.4,439.3C766.5,439.1 767.8,439.5 768.8,440.0C769.7,440.5 771.2,442.1 771.2,442.1C771.2,442.1 773.1,440.3 774.2,440.0C775.3,439.7 776.6,439.8 777.5,440.4C778.4,441.0 778.9,442.2 779.0,443.3C779.1,444.4 778.7,446.0 777.9,447.1C777.1,448.1 775.3,448.9 774.2,449.6C773.1,450.3 771.9,451.5 770.8,451.7C769.8,451.8 768.8,451.0 767.9,450.4C767.0,449.9 765.5,448.8 764.6,447.9C763.7,447.1 762.6,446.2 762.3,445.0Z"/>
<path fill="#0000ff" d="M783.3,484.2C783.7,482.5 784.6,480.1 785.8,478.3C787.1,476.6 789.3,473.9 791.7,472.5C794.1,471.1 797.2,470.8 800.0,470.0C802.8,469.2 806.4,468.0 808.3,467.5C810.3,467.0 812.9,466.1 814.2,466.2C815.5,466.4 816.5,467.4 817.5,468.3C818.5,469.2 819.8,472.2 821.7,473.3C823.5,474.5 827.7,474.9 829.2,475.4C830.6,475.9 833.3,477.5 833.3,477.5C833.3,477.5 836.2,474.5 837.5,473.3C838.8,472.1 840.3,470.9 841.7,470.0C843.0,469.1 845.8,467.7 845.8,467.7C845.8,467.7 847.9,468.9 848.3,470.0C848.8,471.1 850.0,475.8 850.4,478.3C850.9,480.8 851.1,483.3 851.2,485.8C851.4,488.4 851.2,496.2 851.2,496.2C851.2,496.2 785.0,496.2 785.0,496.2C785.0,496.2 783.6,490.8 783.3,489.2C783.1,487.5 783.0,485.8 783.3,484.2Z"/>
<path fill="#0000ff" d="M849.2,489.2C850.2,487.0 852.9,485.3 855.0,483.8C857.1,482.2 860.1,480.7 861.7,480.0C863.3,479.3 865.5,478.8 866.7,478.8C867.9,478.8 869.1,479.3 870.0,480.0C870.9,480.7 871.8,482.1 872.5,483.3C873.2,484.5 874.0,486.8 875.0,488.3C876.0,489.8 877.7,491.4 878.3,492.5C878.9,493.6 879.2,496.2 879.2,496.2C879.2,496.2 849.2,496.2 849.2,496.2C849.2,496.2 848.2,491.3 849.2,489.2Z"/>
<path fill="#0000ff" d="M783.3,484.2C783.3,484.2 784.4,487.5 785.0,489.2C785.6,490.8 787.5,495.0 787.5,495.0C787.5,495.0 789.8,494.7 790.8,494.2C791.9,493.7 794.1,491.8 795.8,490.8C797.6,489.9 800.0,488.8 801.7,488.3C803.3,487.8 806.7,487.5 806.7,487.5C806.7,487.5 806.1,490.8 805.8,492.5C805.6,494.2 805.0,495.8 805.0,497.5C805.0,499.2 804.7,504.0 805.8,505.8C807.0,507.6 810.0,507.7 811.7,508.3C813.3,509.0 815.4,508.7 816.7,510.0C817.9,511.3 818.1,514.0 819.2,515.8C820.2,517.7 822.1,520.1 823.3,521.7C824.6,523.2 825.7,525.1 827.5,525.8C829.3,526.6 832.7,526.3 835.0,526.7C837.3,527.1 839.4,527.7 841.7,528.3C843.9,529.0 846.9,529.7 848.3,530.4C849.8,531.1 852.1,533.3 852.1,533.3C852.1,533.3 850.7,537.0 850.4,538.3C850.1,539.7 850.0,542.5 850.0,542.5C850.0,542.5 853.3,543.3 853.3,543.3C853.3,543.3 854.4,540.0 855.0,538.3C855.6,536.7 855.6,534.8 856.7,533.3C857.7,531.9 859.7,530.0 861.7,529.2C863.7,528.3 867.3,528.5 868.3,528.3C869.3,528.2 871.2,527.5 871.2,527.5C871.2,527.5 871.2,484.2 871.2,484.2C871.2,484.2 783.3,484.2 783.3,484.2Z"/>
<path fill="#0000ff" d="M849.2,484.2C849.2,484.2 875.0,484.2 875.0,484.2C875.0,484.2 876.0,488.5 876.7,490.0C877.3,491.5 878.9,492.6 879.2,494.2C879.5,495.8 878.3,499.2 878.3,499.2C878.3,499.2 882.0,500.8 883.3,501.7C884.6,502.6 886.2,504.3 886.7,505.0C887.2,505.7 887.7,506.6 887.5,507.5C887.3,508.4 885.9,510.3 885.0,511.7C884.1,513.0 882.9,515.1 881.7,516.7C880.5,518.3 878.9,520.0 877.5,521.7C876.1,523.3 875.2,525.5 873.3,526.7C871.5,527.8 868.9,527.9 866.7,528.3C864.4,528.7 862.0,528.8 860.0,529.2C858.0,529.6 855.8,530.5 854.2,530.8C852.5,531.2 849.2,531.7 849.2,531.7C849.2,531.7 849.2,484.2 849.2,484.2Z"/>
<path fill="#0000ff" d="M885.0,525.0C885.0,525.0 886.5,527.8 887.5,528.3C888.5,528.9 890.0,529.1 890.8,528.3C891.7,527.6 892.0,525.6 892.5,524.2C893.0,522.7 893.4,519.5 894.2,518.3C894.9,517.1 897.5,515.8 897.5,515.8C897.5,515.8 899.5,516.6 900.0,517.5C900.5,518.4 901.7,521.9 902.1,524.2C902.5,526.5 902.6,529.4 902.5,531.7C902.4,533.9 902.3,536.4 901.7,538.3C901.0,540.2 899.7,541.8 898.3,543.3C897.0,544.8 894.9,546.7 893.3,547.5C891.8,548.3 889.5,548.6 888.3,548.3C887.2,548.1 886.3,546.9 885.8,545.8C885.4,544.7 884.9,542.5 885.0,540.8C885.1,539.1 886.5,536.7 886.7,535.0C886.8,533.3 886.1,531.7 885.8,530.0C885.6,528.3 885.0,525.0 885.0,525.0Z"/>
<path fill="#0000ff" d="M904.2,543.3C904.6,541.5 905.7,540.0 906.7,538.3C907.6,536.7 909.0,534.7 910.0,533.3C911.0,532.0 912.3,530.1 913.3,529.6C914.3,529.1 915.8,529.3 916.7,530.0C917.5,530.7 918.4,532.6 918.8,534.2C919.1,535.7 919.5,539.1 919.6,541.7C919.7,544.2 919.8,547.5 919.6,550.0C919.4,552.5 918.7,556.2 918.3,557.5C918.0,558.8 917.9,560.7 916.7,561.2C915.4,561.8 911.9,562.3 910.0,561.2C908.1,560.2 907.6,557.7 906.7,555.8C905.7,553.9 904.6,552.1 904.2,550.0C903.7,547.9 903.8,545.2 904.2,543.3Z"/>
<path fill="#0000ff" d="M908.8,559.2C908.8,559.2 909.2,562.6 909.6,563.3C910.0,564.1 910.9,564.7 911.7,564.6C912.5,564.5 914.0,563.3 915.0,562.5C916.0,561.7 918.3,559.2 918.3,559.2C918.3,559.2 908.8,559.2 908.8,559.2Z"/>
<path fill="#0000ff" d="M925.8,613.3C925.8,613.3 928.0,611.1 929.2,610.0C930.4,608.9 932.1,607.9 933.3,606.7C934.6,605.4 936.2,602.9 936.7,602.5C937.1,602.1 938.3,601.7 938.3,601.7C938.3,601.7 938.3,625.8 938.3,625.8C938.3,625.8 935.4,625.1 934.2,624.2C933.0,623.2 932.0,621.4 930.8,620.0C929.7,618.6 928.1,616.6 927.5,615.8C926.9,615.0 925.8,613.3 925.8,613.3Z"/>
<path fill="#00ff00" d="M629.8,330.0C629.9,328.7 631.1,326.2 631.9,324.4C632.6,322.5 633.6,319.7 634.4,318.8C635.1,317.8 636.3,316.9 637.5,316.9C638.7,316.8 643.3,317.8 646.2,318.1C649.2,318.4 652.1,318.9 655.0,318.8C657.9,318.6 661.8,318.0 665.0,316.9C668.2,315.8 672.1,313.2 675.0,311.9C677.9,310.5 682.5,308.6 683.8,308.1C685.0,307.6 686.3,306.6 687.5,306.9C688.7,307.1 690.0,309.4 690.0,309.4C690.0,309.4 686.7,312.4 685.0,313.8C683.3,315.1 680.0,317.6 677.5,319.4C675.0,321.1 672.0,323.3 670.0,324.4C668.0,325.5 665.4,326.4 663.8,326.9C662.1,327.3 659.8,327.0 658.8,327.5C657.7,328.0 656.9,329.0 656.2,330.0C655.6,331.0 653.5,334.2 652.5,336.2C651.5,338.3 651.3,340.8 650.0,342.5C648.7,344.2 646.6,345.3 645.0,346.2C643.4,347.2 640.8,348.5 640.0,348.8C639.2,349.0 637.5,348.8 637.5,348.8C637.5,348.8 636.9,345.4 636.9,343.8C636.9,342.1 638.1,340.1 637.5,338.8C636.9,337.4 634.8,337.0 633.8,336.2C632.7,335.5 631.3,334.8 630.6,333.8C629.9,332.7 629.6,331.3 629.8,330.0Z"/>
<path fill="#00ff00" d="M649.0,356.2C649.0,356.2 649.8,352.8 650.6,351.2C651.5,349.7 653.7,347.3 655.0,345.6C656.3,344.0 657.3,341.7 658.8,340.6C660.2,339.5 662.0,339.3 663.8,338.8C665.5,338.2 668.7,337.5 671.2,336.9C673.8,336.2 676.7,335.4 678.8,335.0C680.8,334.6 685.0,334.4 685.0,334.4C685.0,334.4 686.0,335.7 685.6,336.2C685.3,336.8 682.8,338.9 681.2,340.0C679.7,341.1 678.1,342.3 676.2,343.1C674.4,343.9 670.9,344.7 668.8,345.6C666.6,346.5 664.5,347.5 662.5,348.8C660.5,350.0 657.5,352.7 656.2,353.8C655.0,354.8 653.6,356.5 652.5,356.9C651.4,357.3 649.0,356.2 649.0,356.2Z"/>
<path fill="#00ff00" d="M763.0,444.7C762.9,443.9 763.2,442.6 763.7,442.0C764.1,441.4 764.9,441.1 765.7,441.0C766.4,440.9 767.3,441.2 768.0,441.7C768.7,442.1 770.7,444.3 770.7,444.3C770.7,444.3 773.1,442.6 774.0,442.3C774.9,442.0 775.9,442.0 776.7,442.3C777.4,442.7 777.9,443.5 778.0,444.3C778.1,445.1 777.7,446.1 777.0,446.7C776.3,447.2 775.0,447.3 774.0,447.7C773.0,448.0 771.9,449.1 770.7,449.0C769.5,448.9 768.4,447.7 767.3,447.3C766.3,447.0 764.6,447.1 764.0,446.7C763.4,446.3 763.1,445.4 763.0,444.7Z"/>
<path fill="#00ff00" d="M763.2,445.0C763.0,444.2 763.3,442.5 763.8,441.8C764.2,441.2 765.0,440.7 765.8,440.7C766.6,440.6 767.7,441.0 768.5,441.5C769.3,442.0 771.2,444.2 771.2,444.2C771.2,444.2 773.4,442.0 774.2,441.7C774.9,441.3 776.0,441.4 776.7,441.8C777.4,442.3 777.9,443.3 777.9,444.2C777.9,445.1 777.4,446.0 776.7,446.7C776.0,447.3 774.2,447.8 773.3,448.2C772.5,448.5 771.7,449.2 770.8,449.2C769.9,449.1 768.9,448.3 767.9,447.9C766.9,447.5 765.7,447.1 765.0,446.7C764.3,446.2 763.4,445.8 763.2,445.0Z"/>
<path fill="#00ff00" d="M784.2,485.0C784.3,483.0 785.4,480.9 786.7,479.2C787.9,477.5 790.2,475.1 792.5,473.8C794.8,472.4 798.3,471.8 800.8,471.0C803.3,470.2 806.5,469.2 808.3,468.8C810.1,468.3 812.5,467.5 813.8,467.7C815.0,467.9 815.8,469.1 816.7,470.0C817.5,470.9 819.0,473.8 820.8,475.0C822.7,476.2 826.7,477.1 828.3,477.5C830.0,477.9 831.7,478.9 833.3,478.3C834.9,477.8 836.7,475.3 838.3,474.2C839.9,473.0 842.6,471.6 843.3,471.2C844.1,470.9 845.8,470.7 845.8,470.7C845.8,470.7 847.0,474.1 847.5,475.8C848.0,477.6 849.2,483.5 849.6,485.0C850.0,486.5 851.0,487.7 851.2,489.2C851.5,490.7 851.2,496.2 851.2,496.2C851.2,496.2 792.3,496.4 790.0,496.2C787.7,496.1 786.8,492.6 785.8,490.8C784.9,489.0 784.0,487.0 784.2,485.0Z"/>
<path fill="#00ff00" d="M849.2,490.8C850.1,489.2 852.9,487.3 855.0,485.8C857.1,484.4 860.1,482.8 861.7,482.1C863.3,481.4 865.5,480.8 866.7,480.8C867.9,480.8 869.1,481.3 870.0,482.1C870.9,482.9 871.4,484.6 872.1,485.8C872.8,487.1 873.4,488.6 874.2,490.0C874.9,491.4 876.4,493.5 876.7,494.2C877.0,494.8 877.1,496.2 877.1,496.2C877.1,496.2 849.2,496.2 849.2,496.2C849.2,496.2 848.3,492.4 849.2,490.8Z"/>
<path fill="#00ff00" d="M785.0,484.2C785.0,484.2 786.0,487.0 786.7,488.3C787.3,489.7 789.2,493.3 789.2,493.3C789.2,493.3 793.0,491.0 795.0,490.0C797.0,489.0 799.3,487.6 801.7,487.1C804.0,486.5 809.2,486.7 809.2,486.7C809.2,486.7 808.0,490.0 807.5,491.7C807.0,493.4 805.9,495.5 805.8,497.5C805.8,499.5 805.7,502.8 807.1,504.6C808.5,506.4 811.7,506.5 813.3,507.1C815.0,507.7 817.1,507.5 818.3,508.8C819.6,510.0 819.7,513.0 820.8,515.0C821.9,517.0 824.0,519.6 825.0,520.8C826.0,522.1 826.9,523.5 828.3,524.2C829.8,524.8 833.6,525.0 835.8,525.4C838.1,525.9 840.3,526.5 842.5,527.1C844.7,527.7 847.6,528.4 849.2,529.2C850.8,530.0 852.2,532.1 853.3,532.5C854.4,532.9 855.7,532.3 856.7,531.7C857.7,531.1 859.7,528.4 861.7,527.5C863.7,526.6 867.3,526.8 868.3,526.7C869.3,526.5 871.2,525.8 871.2,525.8C871.2,525.8 871.2,493.3 871.2,493.3C871.2,493.3 853.3,493.3 853.3,493.3C853.3,493.3 853.3,490.0 853.3,490.0C853.3,490.0 845.0,490.0 845.0,490.0C845.0,490.0 845.0,484.2 845.0,484.2C845.0,484.2 785.0,484.2 785.0,484.2Z"/>
<path fill="#00ff00" d="M849.2,484.2C849.2,484.2 873.3,484.2 873.3,484.2C873.3,484.2 874.4,488.5 875.0,490.0C875.6,491.5 877.2,492.6 877.5,494.2C877.8,495.8 876.7,500.0 876.7,500.0C876.7,500.0 881.3,501.7 882.5,502.5C883.7,503.3 885.3,504.4 885.4,505.8C885.6,507.3 884.2,509.9 883.3,511.7C882.4,513.5 881.2,515.1 880.0,516.7C878.8,518.3 877.2,520.2 875.8,521.7C874.5,523.1 873.4,524.9 871.7,525.8C869.9,526.7 867.8,526.4 865.8,526.7C863.9,526.9 861.2,527.1 859.2,527.5C857.2,527.9 854.7,528.8 853.3,529.2C851.9,529.6 849.2,530.4 849.2,530.4C849.2,530.4 849.2,484.2 849.2,484.2Z"/>
<path fill="#00ff00" d="M886.7,534.2C887.1,533.1 888.3,532.5 889.2,531.7C890.0,530.8 891.7,529.7 892.5,528.3C893.3,526.9 893.8,523.6 894.2,522.5C894.5,521.4 894.8,519.8 895.4,519.2C896.0,518.5 897.9,518.3 897.9,518.3C897.9,518.3 899.6,520.4 900.0,521.7C900.4,522.9 900.8,526.1 900.8,528.3C900.9,530.6 901.0,533.5 900.4,535.8C899.9,538.2 898.6,540.9 897.5,542.5C896.4,544.1 894.6,545.6 893.3,546.2C892.1,546.9 890.4,547.5 889.2,547.1C887.9,546.7 887.1,545.4 886.7,544.2C886.2,543.0 886.2,540.9 886.2,539.2C886.2,537.5 886.2,535.3 886.7,534.2Z"/>
<path fill="#00ff00" d="M905.0,545.0C905.4,543.1 906.5,540.9 907.5,539.2C908.5,537.4 909.9,535.3 910.8,534.2C911.8,533.0 913.3,531.5 914.2,531.2C915.0,531.0 916.2,531.4 916.7,532.1C917.2,532.8 917.7,535.1 917.9,536.7C918.2,538.2 918.3,541.1 918.3,543.3C918.4,545.6 918.6,549.4 918.3,551.7C918.1,554.0 916.9,557.3 916.7,558.3C916.4,559.3 915.8,561.2 915.8,561.2C915.8,561.2 912.2,562.2 910.8,561.2C909.4,560.3 908.4,557.5 907.5,555.8C906.6,554.2 905.4,552.7 905.0,550.8C904.6,549.0 904.6,546.9 905.0,545.0Z"/>
<path fill="#00ff00" d="M911.2,559.2C911.2,559.2 911.9,560.9 912.5,561.2C913.1,561.6 914.0,561.6 914.6,561.2C915.2,560.9 916.2,559.2 916.2,559.2C916.2,559.2 911.2,559.2 911.2,559.2Z"/>
<path fill="#00ff00" d="M930.8,616.7C930.8,615.5 931.4,613.2 932.1,611.7C932.8,610.1 934.3,608.4 935.0,607.5C935.7,606.6 937.3,605.2 937.5,605.0C937.7,604.8 938.3,604.6 938.3,604.6C938.3,604.6 938.3,624.2 938.3,624.2C938.3,624.2 936.0,623.6 935.0,622.9C934.0,622.3 932.7,621.0 932.1,620.0C931.4,619.0 930.8,617.9 930.8,616.7Z"/>
<path fill="#0000ff" d="M789.2,493.3C790.1,492.7 794.5,490.8 796.7,490.0C798.9,489.2 801.1,488.7 803.3,487.9C805.5,487.1 807.8,485.8 810.0,485.0C812.2,484.2 815.0,483.6 816.7,483.3C818.3,483.0 820.7,482.8 821.7,482.9C822.6,483.1 824.0,484.6 824.0,484.6C824.0,484.6 823.3,486.3 822.5,486.7C821.7,487.1 819.2,487.4 817.5,487.9C815.8,488.4 813.0,489.2 811.7,490.0C810.3,490.8 808.9,492.5 808.3,493.3C807.8,494.2 807.5,496.2 807.5,496.2C807.5,496.2 787.5,496.2 787.5,496.2C787.5,496.2 788.2,494.0 789.2,493.3Z"/>
<path fill="#3399ff" d="M791.7,496.2C791.7,496.2 794.7,492.8 796.7,491.7C798.6,490.5 801.7,489.9 803.3,489.6C805.0,489.2 808.3,489.2 808.3,489.2C808.3,489.2 808.8,490.8 808.8,491.7C808.7,492.5 807.5,496.2 807.5,496.2C807.5,496.2 791.7,496.2 791.7,496.2Z"/>
<path fill="#66ffff" d="M796.7,496.2C796.7,496.2 798.7,494.0 800.0,493.3C801.3,492.7 804.2,492.5 804.2,492.5C804.2,492.5 805.4,496.2 805.4,496.2C805.4,496.2 796.7,496.2 796.7,496.2Z"/>
<path fill="#00c800" d="M635.0,328.8C635.2,327.4 636.2,325.1 637.5,323.8C638.8,322.4 640.7,321.7 642.5,321.2C644.3,320.8 647.5,320.7 650.0,320.6C652.5,320.5 656.5,320.4 657.5,320.6C658.5,320.8 660.0,322.5 660.0,322.5C660.0,322.5 658.4,325.0 657.5,326.2C656.6,327.5 655.0,329.6 653.8,331.2C652.5,332.9 651.2,334.9 650.0,336.2C648.8,337.6 647.4,339.0 646.2,340.0C645.1,341.0 642.5,342.5 642.5,342.5C642.5,342.5 640.4,341.1 640.0,340.0C639.6,338.9 640.7,336.4 640.0,335.0C639.3,333.6 637.1,333.5 636.2,332.5C635.4,331.5 634.8,330.1 635.0,328.8Z"/>
<path fill="#00c800" d="M672.5,316.2C672.5,316.2 677.7,312.8 678.8,312.5C679.8,312.2 681.9,313.8 681.9,313.8C681.9,313.8 678.6,316.9 677.5,317.5C676.4,318.1 674.5,318.3 673.8,318.1C673.0,317.9 672.5,316.2 672.5,316.2Z"/>
<path fill="#00c800" d="M671.9,339.4C671.9,339.4 676.2,337.5 676.2,337.5C676.2,337.5 677.5,339.4 677.5,339.4C677.5,339.4 674.4,341.9 674.4,341.9C674.4,341.9 671.9,339.4 671.9,339.4Z"/>
<path fill="#00c800" d="M658.1,346.2C658.1,346.2 661.2,345.0 661.2,345.0C661.2,345.0 661.9,347.5 661.9,347.5C661.9,347.5 659.4,348.8 659.4,348.8C659.4,348.8 658.1,346.2 658.1,346.2Z"/>
<path fill="#00c800" d="M786.7,485.8C786.7,485.8 788.0,482.3 789.2,480.8C790.3,479.3 792.2,477.2 794.2,475.8C796.1,474.5 799.5,473.3 801.7,472.5C803.9,471.7 806.7,470.8 808.3,470.4C810.0,470.0 812.3,469.4 813.3,469.6C814.4,469.8 815.1,470.9 815.8,471.7C816.6,472.5 818.2,473.6 818.3,475.0C818.5,476.4 817.8,478.6 816.7,480.0C815.6,481.4 813.5,482.5 811.7,483.3C809.8,484.2 806.7,485.0 804.2,485.8C801.6,486.7 798.9,487.8 796.7,488.3C794.5,488.9 791.5,489.6 790.0,489.2C788.5,488.8 786.7,485.8 786.7,485.8Z"/>
<path fill="#00c800" d="M818.3,496.2C818.3,496.2 820.3,492.4 821.7,490.8C823.1,489.2 825.7,487.0 827.5,485.8C829.3,484.7 831.3,483.9 833.3,483.3C835.4,482.8 838.6,482.7 840.0,482.5C841.4,482.3 842.9,481.4 844.2,482.1C845.4,482.8 846.4,485.1 847.5,486.7C848.6,488.2 850.7,490.2 851.2,491.7C851.8,493.1 851.2,496.2 851.2,496.2C851.2,496.2 818.3,496.2 818.3,496.2Z"/>
<path fill="#00c800" d="M849.2,490.0C850.3,488.3 853.0,488.3 855.0,487.5C857.0,486.7 858.9,485.5 860.8,485.0C862.7,484.5 865.2,484.0 866.7,484.2C868.2,484.3 869.7,484.8 870.8,485.8C872.0,486.8 872.7,488.5 873.3,490.0C873.9,491.5 875.0,496.2 875.0,496.2C875.0,496.2 849.2,496.2 849.2,496.2C849.2,496.2 848.0,491.7 849.2,490.0Z"/>
<path fill="#00c800" d="M806.7,495.8C807.0,494.0 808.4,492.1 810.0,490.8C811.6,489.6 813.8,489.0 815.8,488.3C817.8,487.6 821.1,486.8 823.3,486.2C825.6,485.7 827.7,485.2 830.0,485.0C832.3,484.8 839.9,484.5 841.7,485.0C843.4,485.5 843.8,488.3 845.0,489.2C846.2,490.0 847.7,490.4 849.2,490.4C850.6,490.4 852.0,489.7 853.3,489.2C854.7,488.7 856.7,487.8 858.3,487.1C860.0,486.4 861.6,485.4 863.3,485.0C865.1,484.6 871.2,484.2 871.2,484.2C871.2,484.2 871.2,525.4 871.2,525.4C871.2,525.4 864.5,526.2 861.7,526.7C858.8,527.1 854.8,528.3 853.3,528.3C851.8,528.3 850.5,527.4 849.2,526.7C847.9,525.9 846.0,524.0 845.0,523.3C844.0,522.6 842.9,521.5 841.7,521.7C840.4,521.8 838.5,524.0 836.7,524.2C834.8,524.3 832.5,523.6 830.8,522.5C829.1,521.4 827.8,519.4 826.7,517.5C825.5,515.6 823.9,511.4 823.3,510.0C822.7,508.6 822.7,506.9 821.7,505.8C820.6,504.7 819.0,504.3 817.5,503.8C816.0,503.2 813.9,502.9 812.5,502.5C811.1,502.1 809.3,502.3 808.3,501.2C807.4,500.2 806.4,497.7 806.7,495.8Z"/>
<path fill="#00c800" d="M849.2,488.3C849.2,488.3 853.0,487.3 855.0,486.8C857.0,486.3 859.9,485.4 862.5,485.0C865.1,484.6 869.8,484.0 870.8,484.2C871.9,484.3 872.4,485.7 872.9,486.7C873.5,487.6 873.7,488.9 874.2,490.0C874.6,491.1 876.0,492.9 876.2,494.6C876.5,496.3 875.4,500.4 875.4,500.4C875.4,500.4 880.1,502.1 881.2,502.9C882.4,503.7 883.7,504.9 883.8,506.2C883.8,507.6 882.6,509.9 881.7,511.7C880.8,513.4 879.5,515.1 878.3,516.7C877.1,518.3 875.5,520.3 874.2,521.7C872.9,523.0 871.7,524.6 870.0,525.4C868.3,526.2 866.1,526.0 864.2,526.2C862.2,526.5 859.5,526.7 857.5,527.1C855.5,527.5 852.5,528.5 851.7,528.8C850.8,529.0 849.2,529.6 849.2,529.6C849.2,529.6 849.2,488.3 849.2,488.3Z"/>
<path fill="#00c800" d="M889.2,538.3C889.3,537.1 890.1,536.0 890.8,535.0C891.6,534.0 893.2,532.7 894.2,531.7C895.1,530.6 896.0,529.6 896.7,528.3C897.3,527.1 897.9,524.2 897.9,524.2C897.9,524.2 898.9,525.8 899.2,526.7C899.4,527.6 899.8,530.0 899.8,531.7C899.8,533.4 899.7,535.7 899.2,537.5C898.6,539.3 897.5,541.5 896.7,542.5C895.8,543.5 894.5,544.4 893.3,544.6C892.1,544.7 890.7,544.3 890.0,543.3C889.3,542.3 889.0,539.6 889.2,538.3Z"/>
<path fill="#00c800" d="M907.5,545.8C907.6,544.3 908.5,543.0 909.2,541.7C909.8,540.3 911.2,537.9 912.1,536.7C912.9,535.4 915.0,533.3 915.0,533.3C915.0,533.3 916.5,534.2 916.7,535.0C916.9,535.8 917.3,539.4 917.3,541.7C917.4,543.9 917.4,547.1 917.1,549.2C916.7,551.2 915.7,554.1 915.0,555.0C914.3,555.9 912.7,556.4 911.7,555.8C910.6,555.3 909.4,553.2 908.8,551.7C908.1,550.1 907.4,547.3 907.5,545.8Z"/>
<path fill="#009900" d="M637.5,328.8C637.5,328.8 638.7,325.5 640.0,324.4C641.3,323.3 643.2,322.7 645.0,322.2C646.8,321.8 651.1,321.4 652.5,321.5C653.9,321.6 656.2,323.1 656.2,323.1C656.2,323.1 655.6,325.3 655.0,326.2C654.4,327.2 653.0,329.2 651.9,330.6C650.8,332.0 649.2,334.0 648.1,335.0C647.0,336.0 644.4,337.5 644.4,337.5C644.4,337.5 642.4,335.9 641.9,335.0C641.4,334.1 641.9,332.8 641.2,331.9C640.6,331.0 637.5,328.8 637.5,328.8Z"/>
<path fill="#009900" d="M790.8,485.0C790.8,485.0 792.2,482.1 793.3,480.8C794.4,479.6 796.0,478.5 797.5,477.5C799.0,476.5 801.7,475.0 803.3,474.2C805.0,473.4 806.7,472.6 808.3,472.1C810.0,471.6 812.4,471.1 813.3,471.2C814.3,471.4 815.0,472.4 815.4,473.3C815.8,474.2 816.1,475.6 815.8,476.7C815.5,477.8 814.6,479.7 813.3,480.8C812.1,481.9 810.1,482.7 808.3,483.3C806.6,484.0 803.9,484.4 801.7,485.0C799.4,485.6 796.5,486.7 795.0,486.7C793.5,486.7 790.8,485.0 790.8,485.0Z"/>
<path fill="#009900" d="M819.6,496.2C819.6,496.2 821.9,492.4 823.3,490.8C824.8,489.2 826.5,487.7 828.3,486.7C830.1,485.6 832.1,485.0 834.2,484.6C836.2,484.2 839.5,484.0 840.8,484.2C842.2,484.3 843.6,484.9 844.6,485.8C845.6,486.8 845.9,488.6 846.7,490.0C847.4,491.4 850.0,496.2 850.0,496.2C850.0,496.2 819.6,496.2 819.6,496.2Z"/>
<path fill="#009900" d="M864.2,490.8C864.5,489.6 865.8,488.4 866.7,487.9C867.5,487.4 868.7,487.3 869.6,487.7C870.5,488.1 870.9,489.1 871.2,490.0C871.6,490.9 871.8,492.3 871.8,493.3C871.8,494.3 871.2,496.2 871.2,496.2C871.2,496.2 864.6,496.2 864.6,496.2C864.6,496.2 863.9,492.1 864.2,490.8Z"/>
<path fill="#009900" d="M809.2,496.7C809.4,495.7 810.4,493.6 811.7,492.5C812.9,491.4 814.9,490.7 816.7,490.0C818.4,489.3 821.1,488.2 823.3,487.5C825.5,486.8 827.8,486.2 830.0,485.8C832.2,485.5 834.9,485.3 836.7,485.4C838.4,485.5 840.2,485.7 841.7,486.7C843.1,487.6 844.4,489.1 845.0,490.8C845.6,492.5 846.0,499.2 846.0,499.2C846.0,499.2 844.5,494.6 843.8,492.9C843.0,491.3 842.2,489.4 840.8,488.3C839.4,487.3 837.6,487.1 835.8,487.1C834.1,487.0 831.8,487.3 830.0,487.9C828.2,488.6 826.6,489.7 825.0,490.8C823.4,492.0 821.6,493.6 820.0,495.0C818.4,496.4 815.4,499.2 815.4,499.2C815.4,499.2 817.9,500.2 819.2,500.8C820.4,501.4 822.3,502.1 823.3,502.9C824.4,503.7 825.4,504.6 825.8,505.8C826.3,507.0 826.0,510.0 826.0,510.0C826.0,510.0 824.7,506.4 823.3,505.0C822.0,503.6 819.7,502.7 818.3,502.1C817.0,501.5 815.6,501.3 814.2,500.8C812.8,500.4 810.8,500.2 810.0,499.6C809.2,498.9 808.9,497.7 809.2,496.7Z"/>
<path fill="#009900" d="M843.3,489.2C843.3,489.2 845.1,490.0 845.4,490.8C845.7,491.7 846.4,496.9 846.5,499.2C846.6,501.4 845.9,503.6 846.0,505.8C846.1,508.1 846.4,510.5 846.8,512.5C847.2,514.5 847.8,516.6 848.5,518.3C849.2,520.1 850.3,522.2 851.0,523.3C851.7,524.5 853.5,526.4 853.5,526.4C853.5,526.4 851.0,525.7 850.0,525.0C849.0,524.3 846.6,522.6 845.4,520.8C844.3,519.1 842.9,516.3 842.5,513.8C842.1,511.2 842.9,508.4 843.2,505.8C843.4,503.3 844.0,500.9 844.0,498.3C844.0,495.8 843.3,489.2 843.3,489.2Z"/>
<path fill="#009900" d="M865.8,494.2C866.4,492.8 867.1,491.0 867.7,490.0C868.3,489.0 870.0,487.5 870.0,487.5C870.0,487.5 871.2,487.8 871.2,488.3C871.3,488.8 871.2,506.5 871.2,506.5C871.2,506.5 867.9,506.4 866.7,505.8C865.4,505.2 864.2,504.2 863.8,502.9C863.3,501.6 864.0,499.8 864.3,498.3C864.7,496.9 865.3,495.5 865.8,494.2Z"/>
<path fill="#009900" d="M849.2,490.7C849.2,490.7 853.1,489.8 855.0,489.3C856.9,488.8 858.9,488.1 860.8,487.7C862.8,487.3 865.6,486.7 866.7,486.8C867.8,486.9 868.9,487.6 869.6,488.3C870.2,489.1 870.4,490.2 870.4,491.2C870.4,492.3 869.5,494.7 869.6,496.2C869.7,497.8 869.9,499.5 870.8,500.8C871.8,502.1 873.7,502.9 875.0,503.8C876.3,504.6 878.6,505.4 879.2,505.8C879.7,506.3 879.8,507.2 879.6,507.9C879.4,508.6 878.0,511.0 877.1,512.5C876.2,514.0 875.3,515.7 874.2,517.1C873.1,518.5 871.7,519.9 870.4,520.8C869.1,521.8 867.8,522.6 866.2,523.2C864.7,523.7 862.1,524.2 860.0,524.7C857.9,525.2 854.7,525.8 853.3,526.2C851.9,526.5 849.2,527.3 849.2,527.3C849.2,527.3 849.2,490.7 849.2,490.7Z"/>
<path fill="#009900" d="M890.0,539.2C890.1,538.0 890.9,536.8 891.7,535.8C892.4,534.8 894.2,533.3 895.0,532.5C895.8,531.7 897.5,530.0 897.5,530.0C897.5,530.0 898.6,532.1 898.8,533.3C898.9,534.5 898.7,536.2 898.3,537.5C897.9,538.8 897.0,540.8 896.2,541.7C895.5,542.5 894.2,543.2 893.3,543.3C892.5,543.5 891.4,543.2 890.8,542.5C890.3,541.8 889.9,540.3 890.0,539.2Z"/>
<path fill="#009900" d="M908.8,546.7C908.8,545.2 909.7,543.8 910.4,542.5C911.1,541.2 912.3,539.2 912.9,538.3C913.5,537.4 915.0,535.8 915.0,535.8C915.0,535.8 916.1,537.4 916.2,538.3C916.4,539.3 916.6,543.0 916.5,545.0C916.4,547.0 915.9,549.8 915.4,550.8C914.9,551.8 913.5,552.5 912.5,552.5C911.5,552.5 910.5,551.7 910.0,550.8C909.5,550.0 908.7,548.1 908.8,546.7Z"/>
<path fill="#ffff00" d="M639.4,328.8C639.6,327.9 641.2,325.9 642.5,325.0C643.8,324.1 645.8,323.6 647.5,323.1C649.2,322.7 652.2,322.1 653.1,322.2C654.1,322.4 655.0,323.4 655.0,324.4C655.0,325.3 654.0,327.0 653.1,328.1C652.3,329.3 650.4,331.0 649.4,331.9C648.4,332.8 647.5,334.0 646.2,334.4C645.0,334.7 643.4,334.3 642.5,333.8C641.6,333.2 641.1,332.0 640.6,331.2C640.1,330.5 639.1,329.6 639.4,328.8Z"/>
<path fill="#ffff00" d="M797.9,482.1C798.0,481.4 799.1,479.5 800.0,478.3C800.9,477.2 802.0,475.9 803.3,475.0C804.6,474.1 807.0,472.9 808.3,472.5C809.7,472.1 811.4,471.8 812.5,472.1C813.6,472.3 814.5,473.2 815.0,474.2C815.5,475.2 815.4,476.5 815.0,477.5C814.6,478.5 813.5,479.3 812.5,480.0C811.5,480.7 809.8,481.8 808.3,482.5C806.8,483.2 804.7,484.0 803.3,484.2C801.9,484.4 799.8,484.0 799.2,483.8C798.5,483.5 797.8,482.8 797.9,482.1Z"/>
<path fill="#ffff00" d="M820.8,496.2C820.8,496.2 822.8,493.0 824.2,491.7C825.5,490.3 827.3,488.8 829.2,487.9C831.0,487.0 833.3,486.4 835.0,486.2C836.7,486.1 838.9,486.2 840.0,486.7C841.1,487.1 841.9,488.2 842.5,489.2C843.1,490.2 843.8,492.4 844.2,493.3C844.5,494.3 845.0,496.2 845.0,496.2C845.0,496.2 820.8,496.2 820.8,496.2Z"/>
<path fill="#ffff00" d="M849.2,493.3C849.2,493.3 852.5,492.1 854.2,491.7C855.9,491.2 858.3,490.7 860.0,490.4C861.7,490.2 864.0,489.8 865.0,490.0C866.0,490.2 867.2,490.7 867.5,491.7C867.8,492.6 867.1,496.2 867.1,496.2C867.1,496.2 849.2,496.2 849.2,496.2C849.2,496.2 849.2,493.3 849.2,493.3Z"/>
<path fill="#ffff00" d="M815.4,499.2C815.4,499.2 818.4,496.4 820.0,495.0C821.6,493.6 823.4,492.0 825.0,490.8C826.6,489.7 828.2,488.6 830.0,487.9C831.8,487.3 834.1,487.0 835.8,487.1C837.6,487.1 839.5,487.4 840.8,488.3C842.2,489.3 842.8,491.0 843.3,492.5C843.8,494.0 844.2,496.4 844.2,498.3C844.2,500.3 843.9,502.9 843.3,505.0C842.8,507.1 841.8,509.1 840.8,510.8C839.9,512.6 838.7,514.5 837.5,515.8C836.3,517.2 834.3,518.7 833.3,519.2C832.3,519.7 831.0,520.0 830.0,519.6C829.0,519.1 828.0,517.9 827.5,516.7C827.0,515.5 826.9,513.4 826.7,511.7C826.4,510.0 826.3,507.0 825.8,505.8C825.4,504.6 824.4,503.7 823.3,502.9C822.3,502.1 820.4,501.4 819.2,500.8C817.9,500.2 815.4,499.2 815.4,499.2Z"/>
<path fill="#ffff00" d="M846.2,499.2C846.6,497.6 847.3,496.1 848.3,495.0C849.4,493.9 851.0,493.1 852.5,492.5C854.0,491.9 856.6,491.4 858.3,490.8C860.0,490.3 862.0,489.3 863.3,489.2C864.6,489.0 867.1,490.0 867.1,490.0C867.1,490.0 865.9,493.9 865.4,495.8C864.9,497.8 863.6,501.5 863.8,502.9C863.9,504.3 865.4,505.2 866.7,505.8C867.9,506.5 871.2,506.7 871.2,506.7C871.2,506.7 871.2,520.8 871.2,520.8C871.2,520.8 866.2,521.8 864.2,522.5C862.1,523.2 860.0,524.4 858.3,525.0C856.7,525.6 854.6,526.5 853.3,526.2C852.1,526.0 851.5,524.4 850.8,523.3C850.1,522.2 849.0,520.1 848.3,518.3C847.7,516.6 847.1,514.5 846.7,512.5C846.3,510.5 845.9,508.1 845.8,505.8C845.8,503.6 845.9,500.7 846.2,499.2Z"/>
<path fill="#ffff00" d="M849.2,492.9C849.2,492.9 853.1,492.2 855.0,491.7C856.9,491.2 858.9,490.3 860.8,490.0C862.8,489.7 866.7,489.6 866.7,489.6C866.7,489.6 868.0,491.4 867.9,492.5C867.9,493.6 866.8,495.3 866.2,496.7C865.7,498.1 864.6,499.6 864.3,500.8C864.1,502.1 864.6,504.6 864.6,504.6C864.6,504.6 868.3,503.6 870.0,504.3C871.7,505.0 872.9,507.3 873.8,508.3C874.6,509.4 875.9,510.3 876.0,511.7C876.1,513.0 874.9,514.2 874.2,515.4C873.4,516.6 872.4,518.5 871.2,519.6C870.1,520.7 868.6,521.4 867.1,522.1C865.6,522.7 864.0,523.0 862.5,523.5C861.0,524.0 858.6,524.7 856.7,525.2C854.7,525.7 849.2,526.8 849.2,526.8C849.2,526.8 849.2,492.9 849.2,492.9Z"/>
<path fill="#ffff00" d="M890.4,539.2C890.5,538.5 891.0,536.8 891.7,535.8C892.3,534.8 893.3,533.8 894.2,533.3C895.0,532.9 896.3,532.6 897.1,532.9C897.8,533.2 898.3,534.2 898.3,535.0C898.4,535.8 898.0,537.4 897.5,538.3C897.0,539.3 896.3,540.2 895.4,540.8C894.6,541.5 893.1,542.0 892.5,542.1C891.9,542.1 891.2,541.8 890.8,541.2C890.5,540.7 890.3,539.9 890.4,539.2Z"/>
<path fill="#ffff00" d="M910.2,545.0C910.2,545.0 911.5,542.4 912.1,541.7C912.6,540.9 914.0,539.6 914.0,539.6C914.0,539.6 914.3,542.3 914.3,543.3C914.3,544.3 914.0,546.2 914.0,546.2C914.0,546.2 912.2,546.0 911.7,545.8C911.1,545.7 910.2,545.0 910.2,545.0Z"/>
<path fill="#009900" d="M857.1,511.7C857.1,511.0 857.5,509.6 857.5,509.6C857.5,509.6 861.2,509.2 861.2,509.2C861.2,509.2 861.9,510.6 861.7,511.2C861.4,511.9 860.2,513.4 859.6,513.8C858.9,514.1 857.3,513.8 857.3,513.8C857.3,513.8 857.1,512.4 857.1,511.7Z"/>
<path fill="#009900" d="M857.1,511.7C857.1,511.0 857.5,509.6 857.5,509.6C857.5,509.6 861.2,509.2 861.2,509.2C861.2,509.2 862.2,510.5 862.1,511.2C861.9,512.0 861.3,513.3 860.4,513.8C859.6,514.2 857.5,513.8 857.5,513.8C857.5,513.8 857.1,512.4 857.1,511.7Z"/>
<path fill="#ffcc00" d="M823.3,496.2C823.3,496.2 825.3,493.5 826.7,492.5C828.0,491.5 830.0,490.5 831.7,490.0C833.3,489.5 835.4,489.3 836.7,489.6C838.0,489.8 839.3,490.5 840.0,491.7C840.7,492.8 840.8,496.2 840.8,496.2C840.8,496.2 823.3,496.2 823.3,496.2Z"/>
<path fill="#ffcc00" d="M855.0,496.2C855.0,496.2 856.5,494.8 857.5,494.6C858.5,494.4 860.4,494.8 860.8,495.0C861.2,495.2 861.2,496.2 861.2,496.2C861.2,496.2 855.0,496.2 855.0,496.2Z"/>
<path fill="#ffcc00" d="M822.5,495.8C822.5,495.8 824.6,493.5 825.8,492.5C827.1,491.5 828.4,490.5 830.0,490.0C831.6,489.5 833.5,489.3 835.0,489.6C836.5,489.9 838.0,490.6 839.2,491.7C840.3,492.7 841.2,494.3 841.7,495.8C842.1,497.4 842.2,499.7 842.1,501.7C841.9,503.6 841.6,505.7 840.8,507.5C840.1,509.3 838.7,511.1 837.5,512.5C836.3,513.9 834.4,515.8 833.3,516.2C832.3,516.7 830.9,516.5 830.0,515.8C829.1,515.2 828.7,513.7 828.3,512.5C828.0,511.3 827.5,508.4 827.5,506.7C827.5,505.0 828.5,502.8 828.3,501.7C828.2,500.5 827.3,499.4 826.7,498.8C826.0,498.1 824.8,498.0 824.2,497.5C823.5,497.0 822.5,495.8 822.5,495.8Z"/>
<path fill="#ffcc00" d="M847.9,504.2C847.9,502.7 848.1,500.5 848.8,499.2C849.4,497.8 850.4,496.6 851.7,495.8C852.9,495.0 855.3,494.5 856.7,494.2C858.0,493.9 859.8,493.3 860.8,493.8C861.9,494.2 862.5,495.5 862.5,496.7C862.5,497.8 861.5,500.2 860.8,501.7C860.2,503.2 859.4,504.6 858.3,505.8C857.2,507.1 855.2,508.6 854.2,509.2C853.2,509.7 851.7,510.1 850.8,510.0C849.9,509.9 849.2,509.1 848.8,508.3C848.3,507.5 847.9,505.6 847.9,504.2Z"/>
<path fill="#ffcc00" d="M854.6,520.8C854.5,520.0 854.3,518.6 855.0,517.9C855.7,517.2 857.3,516.9 858.3,517.1C859.4,517.3 860.5,518.3 860.8,519.2C861.2,520.1 861.0,521.3 860.4,522.1C859.8,522.9 858.2,523.6 857.5,523.8C856.8,523.9 855.9,523.8 855.4,523.3C854.9,522.8 854.7,521.7 854.6,520.8Z"/>
<path fill="#ffcc00" d="M849.2,495.0C849.2,495.0 851.4,495.5 852.5,495.4C853.6,495.3 855.3,494.4 856.7,494.2C858.0,493.9 860.0,493.6 860.8,493.8C861.7,493.9 862.8,494.5 862.9,495.4C863.1,496.3 862.3,498.0 861.7,499.2C861.0,500.3 859.4,502.1 858.3,503.3C857.3,504.5 856.3,505.7 855.0,506.7C853.7,507.6 851.3,508.9 850.8,509.2C850.3,509.4 849.2,509.6 849.2,509.6C849.2,509.6 849.2,495.0 849.2,495.0Z"/>
<path fill="#ffcc00" d="M854.6,520.8C854.5,520.0 854.3,518.6 855.0,517.9C855.7,517.2 857.3,516.9 858.3,517.1C859.4,517.3 860.5,518.3 860.8,519.2C861.2,520.1 861.0,521.3 860.4,522.1C859.8,522.9 858.2,523.6 857.5,523.8C856.8,523.9 855.9,523.8 855.4,523.3C854.9,522.8 854.7,521.7 854.6,520.8Z"/>
<path fill="#ff6600" d="M835.0,496.2C835.0,496.2 835.9,494.6 836.7,494.2C837.4,493.7 839.2,493.8 839.2,493.8C839.2,493.8 840.0,496.2 840.0,496.2C840.0,496.2 835.0,496.2 835.0,496.2Z"/>
<path fill="#ff6600" d="M830.4,508.3C830.4,506.9 830.4,505.0 830.8,503.3C831.3,501.7 832.4,499.0 833.3,497.5C834.2,496.0 835.9,493.9 836.7,493.3C837.5,492.7 839.6,492.9 839.6,492.9C839.6,492.9 840.7,494.8 840.8,495.8C841.0,496.9 841.1,499.9 840.8,501.7C840.6,503.4 840.0,505.1 839.2,506.7C838.4,508.3 836.8,510.6 835.8,511.7C834.9,512.7 832.5,514.2 832.5,514.2C832.5,514.2 831.1,513.2 830.8,512.5C830.6,511.8 830.4,509.7 830.4,508.3Z"/>
<path fill="#ff6600" d="M849.6,504.2C849.5,503.0 849.8,501.1 850.4,500.0C851.0,498.9 852.3,498.0 853.3,497.5C854.4,497.0 855.6,496.3 856.7,496.7C857.7,497.0 858.6,498.1 858.8,499.2C858.9,500.3 858.2,501.8 857.5,502.9C856.8,504.0 855.0,505.7 854.2,506.2C853.3,506.8 851.2,507.1 851.2,507.1C851.2,507.1 849.7,505.3 849.6,504.2Z"/>
<path fill="#ff6600" d="M849.2,497.5C849.2,497.5 851.4,497.6 852.5,497.5C853.6,497.4 855.7,496.8 856.7,497.1C857.6,497.3 858.6,498.2 858.8,499.2C858.9,500.1 858.2,501.5 857.5,502.5C856.8,503.5 855.5,504.8 854.2,505.4C852.8,506.1 849.2,506.7 849.2,506.7C849.2,506.7 849.2,497.5 849.2,497.5Z"/>
<path fill="#ff0000" d="M832.1,508.3C832.1,507.3 832.4,504.3 832.9,502.5C833.5,500.7 834.8,498.4 835.4,497.5C836.0,496.6 837.9,495.4 837.9,495.4C837.9,495.4 839.4,496.0 839.6,496.7C839.8,497.3 839.9,500.2 839.6,501.7C839.3,503.2 838.6,504.5 837.9,505.8C837.2,507.2 835.6,509.4 835.0,510.0C834.4,510.6 832.9,511.2 832.9,511.2C832.9,511.2 832.1,509.4 832.1,508.3Z"/>
<path fill="#ff0000" d="M849.2,501.2C849.2,501.2 851.1,501.4 851.7,501.7C852.2,501.9 852.9,502.9 852.9,502.9C852.9,502.9 851.3,504.3 850.8,504.6C850.3,504.8 849.2,504.8 849.2,504.8C849.2,504.8 849.2,501.2 849.2,501.2Z"/>
</g>
<g shape-rendering="auto">
<line class="gv" x1="301.07" y1="85.0" x2="301.07" y2="820.50"/>
<line class="gv" x1="358.93" y1="85.0" x2="358.93" y2="820.50"/>
<line class="gv" x1="416.79" y1="85.0" x2="416.79" y2="820.50"/>
<line class="gv" x1="474.64" y1="85.0" x2="474.64" y2="820.50"/>
<line class="gv" x1="532.50" y1="85.0" x2="532.50" y2="820.50"/>
<line class="gv" x1="590.36" y1="85.0" x2="590.36" y2="820.50"/>
<line class="gv" x1="648.21" y1="85.0" x2="648.21" y2="820.50"/>
<line class="gv" x1="706.07" y1="85.0" x2="706.07" y2="820.50"/>
<line class="gv" x1="763.93" y1="85.0" x2="763.93" y2="820.50"/>
<line class="gv" x1="821.79" y1="85.0" x2="821.79" y2="820.50"/>
<line class="gv" x1="879.64" y1="85.0" x2="879.64" y2="820.50"/>
<line class="gh" x1="271.3" y1="798.05" x2="937.50" y2="798.05"/>
<line class="gh" x1="271.3" y1="730.68" x2="937.50" y2="730.68"/>
<line class="gh" x1="271.3" y1="663.32" x2="937.50" y2="663.32"/>
<line class="gh" x1="271.3" y1="595.95" x2="937.50" y2="595.95"/>
<line class="gh" x1="271.3" y1="528.59" x2="937.50" y2="528.59"/>
<line class="gh" x1="271.3" y1="461.23" x2="937.50" y2="461.23"/>
<line class="gh" x1="271.3" y1="393.86" x2="937.50" y2="393.86"/>
<line class="gh" x1="271.3" y1="326.50" x2="937.50" y2="326.50"/>
<line class="gh" x1="271.3" y1="259.14" x2="937.50" y2="259.14"/>
<line class="gh" x1="271.3" y1="191.77" x2="937.50" y2="191.77"/>
<line class="gh" x1="271.3" y1="124.41" x2="937.50" y2="124.41"/>
</g>
<g class="coast">
<polyline points="278.0,79.7 288.3,95.8 295.0,101.7 300.0,110.8 303.8,121.7 322.0,129.3 325.8,139.5 317.5,135.8 310.8,141.7 317.5,147.5 322.5,155.8 317.5,163.3 307.2,161.7 298.7,165.5 291.7,159.7 278.0,171.3 295.0,179.5 308.8,191.3 318.7,189.5 326.2,195.8 327.5,206.7 327.5,220.0 326.7,225.0 324.2,232.8 332.8,229.7 329.5,239.7 320.8,243.3 313.8,249.5 303.7,251.3 300.0,260.8 305.5,271.7 300.5,279.2 293.8,284.5 288.0,293.3 293.3,301.7 291.7,314.2 293.3,325.8 299.2,334.2 305.0,352.5 319.2,375.0 330.8,393.3 348.3,401.2 359.2,401.2 380.8,405.0 389.2,409.2 403.3,420.8 428.3,461.2 437.2,465.0 444.2,445.3 453.0,441.3 454.7,429.2 460.0,430.0 464.7,431.3 475.8,415.0 481.7,409.5 471.7,411.3 468.3,400.0 468.3,385.3 460.0,385.3 456.3,385.3 449.2,379.5 439.2,377.5 434.2,375.0 430.0,372.5 420.0,357.5 411.7,351.7 406.3,313.3 399.2,309.2 406.7,314.2 416.7,330.8 425.5,335.3 435.5,333.3 440.8,341.3 450.8,343.3 456.7,351.7 460.0,353.0 465.0,355.8 469.2,362.5 477.5,368.3 486.7,372.5 495.8,374.5 495.0,375.0 499.2,377.0 488.7,379.2 498.7,377.3 505.8,383.3 507.5,395.0 515.0,401.7 524.7,416.7 524.7,431.7 519.7,439.2 518.0,450.8 525.0,457.5 530.0,465.0 535.8,470.0 543.8,479.2 554.2,477.0 564.2,479.2 573.3,483.3 591.7,487.0 610.8,495.0 620.8,510.8 630.0,512.8 646.7,520.3 658.0,524.7 672.0,536.7 677.2,544.7 685.0,548.7 692.5,555.0 698.3,563.3 705.0,569.2 709.7,578.3 716.7,584.7 722.5,593.3 725.3,603.3 722.0,613.3 723.7,624.7 728.7,632.8 721.7,638.7 717.2,646.3 727.5,644.5 718.3,648.3 719.2,650.0 718.7,648.7 716.7,660.8 703.0,673.0 699.5,682.5 709.2,698.3 723.3,710.3 728.7,718.7 737.2,722.5 749.2,720.5 783.7,736.7 788.7,729.2 788.7,714.2 785.3,705.0 780.0,696.7 763.3,688.8 758.0,680.8 751.2,660.5 773.3,656.3 783.7,673.0 800.8,680.5 810.8,682.8 817.8,688.3 805.8,688.8 810.8,697.0 821.3,698.7 812.8,702.5 817.8,710.8 821.3,722.5 816.2,730.5 814.5,742.8 828.3,755.0 835.8,758.3 844.2,765.8 854.2,780.8 860.5,799.2 860.5,814.2 867.5,814.2 869.5,802.5 866.2,792.5 865.3,778.3 867.5,765.8 872.8,758.3 890.0,750.8 900.0,748.3 920.8,752.5 928.3,756.3 939.2,758.7"/>
<polyline points="322.0,129.3 325.8,119.2 331.7,110.8 334.7,101.7 344.5,99.7 359.2,112.0 367.5,115.8 387.5,119.7 399.2,125.8 460.0,153.3 473.3,159.5 481.7,155.8 495.8,143.3 504.2,139.7 511.7,133.0 519.5,129.7 526.7,135.5 538.3,135.5 545.8,142.0 553.7,145.8 560.8,153.7 569.2,157.5 579.7,147.5 583.3,157.5 588.3,165.5 605.3,173.7 608.7,183.3 610.5,195.3 622.5,195.3 630.8,199.5 639.7,195.3 648.3,199.5 660.0,209.7 661.7,211.7 670.8,210.0 680.0,205.8 689.7,199.2 699.2,197.5 708.3,193.3 715.0,188.0 712.0,163.3"/>
<polyline points="325.8,78.3 333.3,85.8 350.0,93.7 355.3,101.7 372.5,109.7 392.5,113.7 400.8,117.5 408.3,124.2 418.3,125.5 431.7,125.5 440.8,128.0 456.7,135.3 460.0,135.5 469.2,135.5 478.3,139.5 488.3,137.8 495.0,131.7 498.7,122.5 497.0,110.0 499.2,97.5 495.8,88.3 490.0,78.3"/>
<polyline points="450.0,101.3 456.3,109.7 447.5,113.7 450.0,101.3"/>
<polyline points="422.5,343.3 432.5,345.3 437.2,353.0 427.5,355.3 420.3,349.2 422.5,343.3"/>
<polyline points="673.7,78.3 675.0,93.3 677.5,108.3 684.2,126.7 691.7,140.8 700.0,153.3 702.5,163.3 712.5,161.7 717.5,164.2 722.5,171.7 725.8,181.7 728.7,190.8 723.8,184.2 723.3,198.3 720.3,207.5 728.3,203.7 734.2,211.7 736.2,225.0 741.7,241.7 747.5,251.7 750.8,260.8 755.8,269.2 760.0,280.0 770.0,296.7 785.0,319.2 792.5,325.0 805.0,345.0 816.7,363.3 825.0,371.3 835.0,369.2 836.7,375.0 839.2,380.0 869.2,427.5 878.3,431.7 880.8,439.2 885.8,448.3 895.0,453.3 915.0,457.0 921.7,465.8 940.0,480.8"/>
<polyline points="923.3,467.5 920.0,471.7 917.5,480.8 908.8,485.0 895.0,473.3 889.2,465.0 880.8,461.2 871.3,462.8 865.8,471.3 872.5,484.2 866.7,485.0 858.3,490.0 853.3,496.7 853.8,528.3 853.8,581.3"/>
<polyline points="855.0,582.7 866.7,585.0 874.2,589.2 880.8,596.7 890.0,600.8 895.0,609.2 892.5,618.3 884.2,625.0 868.0,632.5 864.7,642.5 857.5,648.7 860.5,658.3 871.3,675.0 874.7,696.7 874.7,713.0 869.2,720.8 862.5,726.7 852.2,728.7 846.7,736.7 840.0,742.5 831.7,746.7 845.0,760.3 854.2,765.0 856.3,778.3 862.5,797.5 862.5,814.2"/>
</g>
</g>
<rect x="262.5" y="79.5" width="675.0" height="741.0" fill="none" stroke="#000" stroke-width="1.6"/>
<g stroke="#000" stroke-width="1.2">
<line x1="301.07" y1="820.50" x2="301.07" y2="825.50"/>
<line x1="358.93" y1="820.50" x2="358.93" y2="825.50"/>
<line x1="416.79" y1="820.50" x2="416.79" y2="825.50"/>
<line x1="474.64" y1="820.50" x2="474.64" y2="825.50"/>
<line x1="532.50" y1="820.50" x2="532.50" y2="825.50"/>
<line x1="590.36" y1="820.50" x2="590.36" y2="825.50"/>
<line x1="648.21" y1="820.50" x2="648.21" y2="825.50"/>
<line x1="706.07" y1="820.50" x2="706.07" y2="825.50"/>
<line x1="763.93" y1="820.50" x2="763.93" y2="825.50"/>
<line x1="821.79" y1="820.50" x2="821.79" y2="825.50"/>
<line x1="879.64" y1="820.50" x2="879.64" y2="825.50"/>
<line x1="257.00" y1="798.05" x2="262.50" y2="798.05"/>
<line x1="257.00" y1="730.68" x2="262.50" y2="730.68"/>
<line x1="257.00" y1="663.32" x2="262.50" y2="663.32"/>
<line x1="257.00" y1="595.95" x2="262.50" y2="595.95"/>
<line x1="257.00" y1="528.59" x2="262.50" y2="528.59"/>
<line x1="257.00" y1="461.23" x2="262.50" y2="461.23"/>
<line x1="257.00" y1="393.86" x2="262.50" y2="393.86"/>
<line x1="257.00" y1="326.50" x2="262.50" y2="326.50"/>
<line x1="257.00" y1="259.14" x2="262.50" y2="259.14"/>
<line x1="257.00" y1="191.77" x2="262.50" y2="191.77"/>
<line x1="257.00" y1="124.41" x2="262.50" y2="124.41"/>
</g>
<text class="ax" x="279.00" y="840.90" textLength="44.02" lengthAdjust="spacingAndGlyphs">85.8W</text>
<text class="ax" x="336.98" y="840.90" textLength="43.12" lengthAdjust="spacingAndGlyphs">85.5W</text>
<text class="ax" x="394.97" y="840.90" textLength="43.12" lengthAdjust="spacingAndGlyphs">85.2W</text>
<text class="ax" x="452.95" y="840.90" textLength="43.12" lengthAdjust="spacingAndGlyphs">84.9W</text>
<text class="ax" x="510.04" y="840.90" textLength="44.02" lengthAdjust="spacingAndGlyphs">84.6W</text>
<text class="ax" x="568.03" y="840.90" textLength="44.02" lengthAdjust="spacingAndGlyphs">84.3W</text>
<text class="ax" x="633.27" y="840.90" textLength="29.50" lengthAdjust="spacingAndGlyphs">84W</text>
<text class="ax" x="684.00" y="840.90" textLength="44.02" lengthAdjust="spacingAndGlyphs">83.7W</text>
<text class="ax" x="741.98" y="840.90" textLength="43.12" lengthAdjust="spacingAndGlyphs">83.4W</text>
<text class="ax" x="799.97" y="840.90" textLength="43.12" lengthAdjust="spacingAndGlyphs">83.1W</text>
<text class="ax" x="857.95" y="840.90" textLength="43.12" lengthAdjust="spacingAndGlyphs">82.8W</text>
<text class="ax" x="218.24" y="804.55" textLength="35.04" lengthAdjust="spacingAndGlyphs">8.1N</text>
<text class="ax" x="218.24" y="737.18" textLength="35.04" lengthAdjust="spacingAndGlyphs">8.4N</text>
<text class="ax" x="218.24" y="669.82" textLength="35.04" lengthAdjust="spacingAndGlyphs">8.7N</text>
<text class="ax" x="230.98" y="602.45" textLength="22.30" lengthAdjust="spacingAndGlyphs">9N</text>
<text class="ax" x="218.24" y="535.09" textLength="35.04" lengthAdjust="spacingAndGlyphs">9.3N</text>
<text class="ax" x="218.24" y="467.73" textLength="35.04" lengthAdjust="spacingAndGlyphs">9.6N</text>
<text class="ax" x="218.24" y="400.36" textLength="35.04" lengthAdjust="spacingAndGlyphs">9.9N</text>
<text class="ax" x="210.36" y="333.00" textLength="42.92" lengthAdjust="spacingAndGlyphs">10.2N</text>
<text class="ax" x="210.36" y="265.64" textLength="42.92" lengthAdjust="spacingAndGlyphs">10.5N</text>
<text class="ax" x="210.36" y="198.27" textLength="42.92" lengthAdjust="spacingAndGlyphs">10.8N</text>
<text class="ax" x="210.36" y="130.91" textLength="42.92" lengthAdjust="spacingAndGlyphs">11.1N</text>
<text class="ttl" x="130.60" y="31.10" textLength="261.20" lengthAdjust="spacingAndGlyphs">IMN/SARAPIQUI_5</text>
<text class="ttl" x="409.30" y="31.10" textLength="191.70" lengthAdjust="spacingAndGlyphs">Precipitacion</text>
<text class="ttl" x="617.60" y="31.10" textLength="158.40" lengthAdjust="spacingAndGlyphs">Acumulada</text>
<text class="ttl" x="796.20" y="31.10" textLength="36.00" lengthAdjust="spacingAndGlyphs">en</text>
<text class="ttl" x="849.20" y="31.10" textLength="18.60" lengthAdjust="spacingAndGlyphs">6</text>
<text class="ttl" x="885.30" y="31.10" textLength="82.50" lengthAdjust="spacingAndGlyphs">horas</text>
<text class="ttl" x="986.50" y="31.10" textLength="82.20" lengthAdjust="spacingAndGlyphs">(mm)</text>
<text class="ttl" x="461.50" y="62.10" textLength="76.30" lengthAdjust="spacingAndGlyphs">2025</text>
<text class="ttl" x="540.80" y="62.10" textLength="20.10" lengthAdjust="spacingAndGlyphs">–</text>
<text class="ttl" x="564.20" y="62.10" textLength="35.70" lengthAdjust="spacingAndGlyphs">04</text>
<text class="ttl" x="604.00" y="62.10" textLength="18.50" lengthAdjust="spacingAndGlyphs">–</text>
<text class="ttl" x="628.30" y="62.10" textLength="36.00" lengthAdjust="spacingAndGlyphs">16</text>
<text class="ttl" x="680.70" y="62.10" textLength="57.60" lengthAdjust="spacingAndGlyphs">09Z</text>
<text class="ft" x="326.80" y="877.40" textLength="104.70" lengthAdjust="spacingAndGlyphs">Instituto</text>
<text class="ft" x="444.80" y="877.40" textLength="175.30" lengthAdjust="spacingAndGlyphs">Meteorologico</text>
<text class="ft" x="634.30" y="877.40" textLength="109.20" lengthAdjust="spacingAndGlyphs">Nacional</text>
<text class="ft" x="758.20" y="877.40" textLength="70.70" lengthAdjust="spacingAndGlyphs">Costa</text>
<text class="ft" x="844.30" y="877.40" textLength="52.40" lengthAdjust="spacingAndGlyphs">Rica</text>
<g stroke="#000" stroke-width="1.3" stroke-linejoin="miter">
<polygon points="1057.9,132.2 1068.8000000000002,89.5 1079.7,132.2" fill="#aaaaaa"/>
<rect x="1057.9" y="132.20" width="21.80" height="42.34" fill="#f5f5f5"/>
<rect x="1057.9" y="174.54" width="21.80" height="42.34" fill="#9932cc"/>
<rect x="1057.9" y="216.88" width="21.80" height="42.34" fill="#ff00ff"/>
<rect x="1057.9" y="259.22" width="21.80" height="42.34" fill="#990000"/>
<rect x="1057.9" y="301.56" width="21.80" height="42.34" fill="#cc3300"/>
<rect x="1057.9" y="343.90" width="21.80" height="42.34" fill="#ff0000"/>
<rect x="1057.9" y="386.24" width="21.80" height="42.34" fill="#ff6600"/>
<rect x="1057.9" y="428.58" width="21.80" height="42.34" fill="#ffcc00"/>
<rect x="1057.9" y="470.92" width="21.80" height="42.34" fill="#ffff00"/>
<rect x="1057.9" y="513.26" width="21.80" height="42.34" fill="#009900"/>
<rect x="1057.9" y="555.60" width="21.80" height="42.34" fill="#00c800"/>
<rect x="1057.9" y="597.94" width="21.80" height="42.34" fill="#00ff00"/>
<rect x="1057.9" y="640.28" width="21.80" height="42.34" fill="#0000ff"/>
<rect x="1057.9" y="682.62" width="21.80" height="42.34" fill="#3399ff"/>
<rect x="1057.9" y="724.96" width="21.80" height="42.34" fill="#66ffff"/>
<polygon points="1057.9,767.3 1068.8000000000002,810 1079.7,767.3" fill="#ffffff"/>
</g>
<text class="cb" x="1085.60" y="139.50" textLength="38.30" lengthAdjust="spacingAndGlyphs">200</text>
<text class="cb" x="1084.70" y="181.84" textLength="39.20" lengthAdjust="spacingAndGlyphs">150</text>
<text class="cb" x="1084.70" y="224.18" textLength="39.20" lengthAdjust="spacingAndGlyphs">120</text>
<text class="cb" x="1084.70" y="266.52" textLength="39.20" lengthAdjust="spacingAndGlyphs">100</text>
<text class="cb" x="1085.60" y="308.86" textLength="25.30" lengthAdjust="spacingAndGlyphs">90</text>
<text class="cb" x="1085.60" y="351.20" textLength="25.30" lengthAdjust="spacingAndGlyphs">75</text>
<text class="cb" x="1085.60" y="393.54" textLength="25.30" lengthAdjust="spacingAndGlyphs">60</text>
<text class="cb" x="1084.70" y="435.88" textLength="26.20" lengthAdjust="spacingAndGlyphs">50</text>
<text class="cb" x="1086.50" y="478.22" textLength="24.40" lengthAdjust="spacingAndGlyphs">40</text>
<text class="cb" x="1085.60" y="520.56" textLength="25.30" lengthAdjust="spacingAndGlyphs">30</text>
<text class="cb" x="1085.60" y="562.90" textLength="25.30" lengthAdjust="spacingAndGlyphs">25</text>
<text class="cb" x="1085.60" y="605.24" textLength="25.30" lengthAdjust="spacingAndGlyphs">20</text>
<text class="cb" x="1084.70" y="647.58" textLength="26.20" lengthAdjust="spacingAndGlyphs">15</text>
<text class="cb" x="1084.70" y="689.92" textLength="45.70" lengthAdjust="spacingAndGlyphs">12.5</text>
<text class="cb" x="1085.60" y="732.26" textLength="12.30" lengthAdjust="spacingAndGlyphs">7</text>
<text class="cb" x="1085.60" y="774.60" textLength="31.80" lengthAdjust="spacingAndGlyphs">3.5</text>
</svg>
</body></html>
